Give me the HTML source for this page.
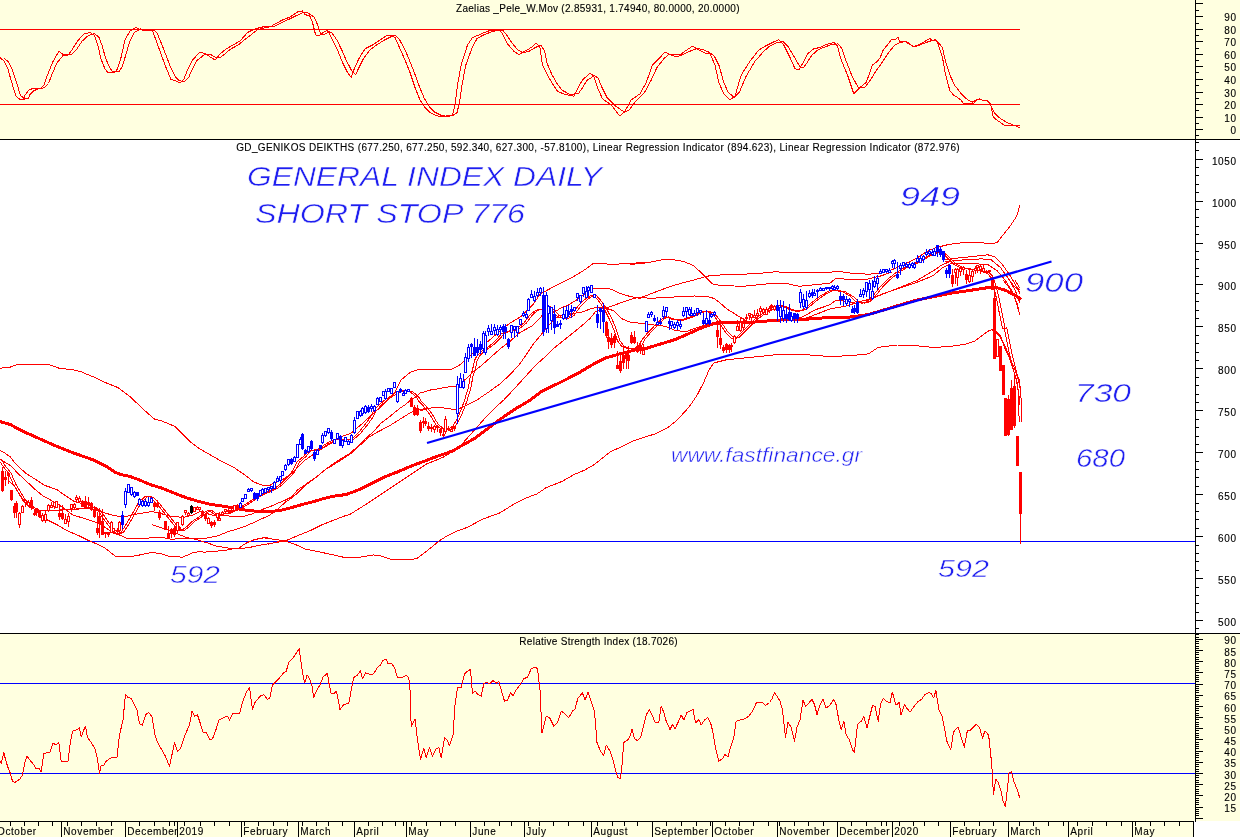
<!DOCTYPE html>
<html><head><meta charset="utf-8"><style>
html,body{margin:0;padding:0;background:#fff;overflow:hidden}
svg{display:block}
</style></head><body>
<svg width="1240" height="837" viewBox="0 0 1240 837">
<rect x="0" y="0" width="1240" height="139" fill="#FFFFE0"/>
<rect x="0" y="140" width="1240" height="493" fill="#FFFFFF"/>
<rect x="0" y="634" width="1240" height="187" fill="#FFFFE0"/>
<rect x="0" y="822" width="1193" height="15" fill="#FFFFE0"/>
<rect x="1194" y="822" width="46" height="15" fill="#FFFFFF"/>
<g shape-rendering="crispEdges">
<line x1="0" y1="139.5" x2="1240" y2="139.5" stroke="#000" stroke-width="1"/>
<line x1="0" y1="633.5" x2="1240" y2="633.5" stroke="#000" stroke-width="1"/>
<line x1="0" y1="821.5" x2="1194" y2="821.5" stroke="#000" stroke-width="1"/>
<line x1="1195.5" y1="0" x2="1195.5" y2="822" stroke="#000" stroke-width="1"/>
<line x1="1193.5" y1="822" x2="1193.5" y2="837" stroke="#000" stroke-width="1"/>
<line x1="1196" y1="135.5" x2="1199" y2="135.5" stroke="#000" stroke-width="1"/>
<line x1="1196" y1="129.5" x2="1203" y2="129.5" stroke="#000" stroke-width="1"/>
<line x1="1196" y1="123.5" x2="1199" y2="123.5" stroke="#000" stroke-width="1"/>
<line x1="1196" y1="117.5" x2="1203" y2="117.5" stroke="#000" stroke-width="1"/>
<line x1="1196" y1="110.5" x2="1199" y2="110.5" stroke="#000" stroke-width="1"/>
<line x1="1196" y1="104.5" x2="1203" y2="104.5" stroke="#000" stroke-width="1"/>
<line x1="1196" y1="98.5" x2="1199" y2="98.5" stroke="#000" stroke-width="1"/>
<line x1="1196" y1="92.5" x2="1203" y2="92.5" stroke="#000" stroke-width="1"/>
<line x1="1196" y1="85.5" x2="1199" y2="85.5" stroke="#000" stroke-width="1"/>
<line x1="1196" y1="79.5" x2="1203" y2="79.5" stroke="#000" stroke-width="1"/>
<line x1="1196" y1="72.5" x2="1199" y2="72.5" stroke="#000" stroke-width="1"/>
<line x1="1196" y1="66.5" x2="1203" y2="66.5" stroke="#000" stroke-width="1"/>
<line x1="1196" y1="60.5" x2="1199" y2="60.5" stroke="#000" stroke-width="1"/>
<line x1="1196" y1="54.5" x2="1203" y2="54.5" stroke="#000" stroke-width="1"/>
<line x1="1196" y1="48.5" x2="1199" y2="48.5" stroke="#000" stroke-width="1"/>
<line x1="1196" y1="41.5" x2="1203" y2="41.5" stroke="#000" stroke-width="1"/>
<line x1="1196" y1="35.5" x2="1199" y2="35.5" stroke="#000" stroke-width="1"/>
<line x1="1196" y1="29.5" x2="1203" y2="29.5" stroke="#000" stroke-width="1"/>
<line x1="1196" y1="23.5" x2="1199" y2="23.5" stroke="#000" stroke-width="1"/>
<line x1="1196" y1="16.5" x2="1203" y2="16.5" stroke="#000" stroke-width="1"/>
<line x1="1196" y1="10.5" x2="1199" y2="10.5" stroke="#000" stroke-width="1"/>
<line x1="1196" y1="3.5" x2="1203" y2="3.5" stroke="#000" stroke-width="1"/>
<line x1="1196" y1="628.5" x2="1199" y2="628.5" stroke="#000" stroke-width="1"/>
<line x1="1196" y1="620.5" x2="1203" y2="620.5" stroke="#000" stroke-width="1"/>
<line x1="1196" y1="612.5" x2="1199" y2="612.5" stroke="#000" stroke-width="1"/>
<line x1="1196" y1="603.5" x2="1199" y2="603.5" stroke="#000" stroke-width="1"/>
<line x1="1196" y1="595.5" x2="1199" y2="595.5" stroke="#000" stroke-width="1"/>
<line x1="1196" y1="587.5" x2="1199" y2="587.5" stroke="#000" stroke-width="1"/>
<line x1="1196" y1="578.5" x2="1203" y2="578.5" stroke="#000" stroke-width="1"/>
<line x1="1196" y1="570.5" x2="1199" y2="570.5" stroke="#000" stroke-width="1"/>
<line x1="1196" y1="561.5" x2="1199" y2="561.5" stroke="#000" stroke-width="1"/>
<line x1="1196" y1="553.5" x2="1199" y2="553.5" stroke="#000" stroke-width="1"/>
<line x1="1196" y1="545.5" x2="1199" y2="545.5" stroke="#000" stroke-width="1"/>
<line x1="1196" y1="536.5" x2="1203" y2="536.5" stroke="#000" stroke-width="1"/>
<line x1="1196" y1="528.5" x2="1199" y2="528.5" stroke="#000" stroke-width="1"/>
<line x1="1196" y1="519.5" x2="1199" y2="519.5" stroke="#000" stroke-width="1"/>
<line x1="1196" y1="511.5" x2="1199" y2="511.5" stroke="#000" stroke-width="1"/>
<line x1="1196" y1="503.5" x2="1199" y2="503.5" stroke="#000" stroke-width="1"/>
<line x1="1196" y1="494.5" x2="1203" y2="494.5" stroke="#000" stroke-width="1"/>
<line x1="1196" y1="486.5" x2="1199" y2="486.5" stroke="#000" stroke-width="1"/>
<line x1="1196" y1="477.5" x2="1199" y2="477.5" stroke="#000" stroke-width="1"/>
<line x1="1196" y1="469.5" x2="1199" y2="469.5" stroke="#000" stroke-width="1"/>
<line x1="1196" y1="461.5" x2="1199" y2="461.5" stroke="#000" stroke-width="1"/>
<line x1="1196" y1="452.5" x2="1203" y2="452.5" stroke="#000" stroke-width="1"/>
<line x1="1196" y1="444.5" x2="1199" y2="444.5" stroke="#000" stroke-width="1"/>
<line x1="1196" y1="436.5" x2="1199" y2="436.5" stroke="#000" stroke-width="1"/>
<line x1="1196" y1="427.5" x2="1199" y2="427.5" stroke="#000" stroke-width="1"/>
<line x1="1196" y1="419.5" x2="1199" y2="419.5" stroke="#000" stroke-width="1"/>
<line x1="1196" y1="410.5" x2="1203" y2="410.5" stroke="#000" stroke-width="1"/>
<line x1="1196" y1="402.5" x2="1199" y2="402.5" stroke="#000" stroke-width="1"/>
<line x1="1196" y1="394.5" x2="1199" y2="394.5" stroke="#000" stroke-width="1"/>
<line x1="1196" y1="385.5" x2="1199" y2="385.5" stroke="#000" stroke-width="1"/>
<line x1="1196" y1="377.5" x2="1199" y2="377.5" stroke="#000" stroke-width="1"/>
<line x1="1196" y1="368.5" x2="1203" y2="368.5" stroke="#000" stroke-width="1"/>
<line x1="1196" y1="360.5" x2="1199" y2="360.5" stroke="#000" stroke-width="1"/>
<line x1="1196" y1="352.5" x2="1199" y2="352.5" stroke="#000" stroke-width="1"/>
<line x1="1196" y1="343.5" x2="1199" y2="343.5" stroke="#000" stroke-width="1"/>
<line x1="1196" y1="335.5" x2="1199" y2="335.5" stroke="#000" stroke-width="1"/>
<line x1="1196" y1="326.5" x2="1203" y2="326.5" stroke="#000" stroke-width="1"/>
<line x1="1196" y1="318.5" x2="1199" y2="318.5" stroke="#000" stroke-width="1"/>
<line x1="1196" y1="310.5" x2="1199" y2="310.5" stroke="#000" stroke-width="1"/>
<line x1="1196" y1="301.5" x2="1199" y2="301.5" stroke="#000" stroke-width="1"/>
<line x1="1196" y1="293.5" x2="1199" y2="293.5" stroke="#000" stroke-width="1"/>
<line x1="1196" y1="284.5" x2="1203" y2="284.5" stroke="#000" stroke-width="1"/>
<line x1="1196" y1="276.5" x2="1199" y2="276.5" stroke="#000" stroke-width="1"/>
<line x1="1196" y1="268.5" x2="1199" y2="268.5" stroke="#000" stroke-width="1"/>
<line x1="1196" y1="259.5" x2="1199" y2="259.5" stroke="#000" stroke-width="1"/>
<line x1="1196" y1="251.5" x2="1199" y2="251.5" stroke="#000" stroke-width="1"/>
<line x1="1196" y1="243.5" x2="1203" y2="243.5" stroke="#000" stroke-width="1"/>
<line x1="1196" y1="234.5" x2="1199" y2="234.5" stroke="#000" stroke-width="1"/>
<line x1="1196" y1="226.5" x2="1199" y2="226.5" stroke="#000" stroke-width="1"/>
<line x1="1196" y1="217.5" x2="1199" y2="217.5" stroke="#000" stroke-width="1"/>
<line x1="1196" y1="209.5" x2="1199" y2="209.5" stroke="#000" stroke-width="1"/>
<line x1="1196" y1="201.5" x2="1203" y2="201.5" stroke="#000" stroke-width="1"/>
<line x1="1196" y1="192.5" x2="1199" y2="192.5" stroke="#000" stroke-width="1"/>
<line x1="1196" y1="184.5" x2="1199" y2="184.5" stroke="#000" stroke-width="1"/>
<line x1="1196" y1="175.5" x2="1199" y2="175.5" stroke="#000" stroke-width="1"/>
<line x1="1196" y1="167.5" x2="1199" y2="167.5" stroke="#000" stroke-width="1"/>
<line x1="1196" y1="159.5" x2="1203" y2="159.5" stroke="#000" stroke-width="1"/>
<line x1="1196" y1="150.5" x2="1199" y2="150.5" stroke="#000" stroke-width="1"/>
<line x1="1196" y1="142.5" x2="1199" y2="142.5" stroke="#000" stroke-width="1"/>
<line x1="1196" y1="818.5" x2="1203" y2="818.5" stroke="#000" stroke-width="1"/>
<line x1="1196" y1="815.5" x2="1199" y2="815.5" stroke="#000" stroke-width="1"/>
<line x1="1196" y1="813.5" x2="1199" y2="813.5" stroke="#000" stroke-width="1"/>
<line x1="1196" y1="811.5" x2="1199" y2="811.5" stroke="#000" stroke-width="1"/>
<line x1="1196" y1="809.5" x2="1199" y2="809.5" stroke="#000" stroke-width="1"/>
<line x1="1196" y1="807.5" x2="1203" y2="807.5" stroke="#000" stroke-width="1"/>
<line x1="1196" y1="804.5" x2="1199" y2="804.5" stroke="#000" stroke-width="1"/>
<line x1="1196" y1="802.5" x2="1199" y2="802.5" stroke="#000" stroke-width="1"/>
<line x1="1196" y1="800.5" x2="1199" y2="800.5" stroke="#000" stroke-width="1"/>
<line x1="1196" y1="798.5" x2="1199" y2="798.5" stroke="#000" stroke-width="1"/>
<line x1="1196" y1="795.5" x2="1203" y2="795.5" stroke="#000" stroke-width="1"/>
<line x1="1196" y1="793.5" x2="1199" y2="793.5" stroke="#000" stroke-width="1"/>
<line x1="1196" y1="791.5" x2="1199" y2="791.5" stroke="#000" stroke-width="1"/>
<line x1="1196" y1="789.5" x2="1199" y2="789.5" stroke="#000" stroke-width="1"/>
<line x1="1196" y1="786.5" x2="1199" y2="786.5" stroke="#000" stroke-width="1"/>
<line x1="1196" y1="784.5" x2="1203" y2="784.5" stroke="#000" stroke-width="1"/>
<line x1="1196" y1="782.5" x2="1199" y2="782.5" stroke="#000" stroke-width="1"/>
<line x1="1196" y1="780.5" x2="1199" y2="780.5" stroke="#000" stroke-width="1"/>
<line x1="1196" y1="777.5" x2="1199" y2="777.5" stroke="#000" stroke-width="1"/>
<line x1="1196" y1="775.5" x2="1199" y2="775.5" stroke="#000" stroke-width="1"/>
<line x1="1196" y1="773.5" x2="1203" y2="773.5" stroke="#000" stroke-width="1"/>
<line x1="1196" y1="771.5" x2="1199" y2="771.5" stroke="#000" stroke-width="1"/>
<line x1="1196" y1="769.5" x2="1199" y2="769.5" stroke="#000" stroke-width="1"/>
<line x1="1196" y1="766.5" x2="1199" y2="766.5" stroke="#000" stroke-width="1"/>
<line x1="1196" y1="764.5" x2="1199" y2="764.5" stroke="#000" stroke-width="1"/>
<line x1="1196" y1="762.5" x2="1203" y2="762.5" stroke="#000" stroke-width="1"/>
<line x1="1196" y1="760.5" x2="1199" y2="760.5" stroke="#000" stroke-width="1"/>
<line x1="1196" y1="757.5" x2="1199" y2="757.5" stroke="#000" stroke-width="1"/>
<line x1="1196" y1="755.5" x2="1199" y2="755.5" stroke="#000" stroke-width="1"/>
<line x1="1196" y1="753.5" x2="1199" y2="753.5" stroke="#000" stroke-width="1"/>
<line x1="1196" y1="751.5" x2="1203" y2="751.5" stroke="#000" stroke-width="1"/>
<line x1="1196" y1="748.5" x2="1199" y2="748.5" stroke="#000" stroke-width="1"/>
<line x1="1196" y1="746.5" x2="1199" y2="746.5" stroke="#000" stroke-width="1"/>
<line x1="1196" y1="744.5" x2="1199" y2="744.5" stroke="#000" stroke-width="1"/>
<line x1="1196" y1="742.5" x2="1199" y2="742.5" stroke="#000" stroke-width="1"/>
<line x1="1196" y1="739.5" x2="1203" y2="739.5" stroke="#000" stroke-width="1"/>
<line x1="1196" y1="737.5" x2="1199" y2="737.5" stroke="#000" stroke-width="1"/>
<line x1="1196" y1="735.5" x2="1199" y2="735.5" stroke="#000" stroke-width="1"/>
<line x1="1196" y1="733.5" x2="1199" y2="733.5" stroke="#000" stroke-width="1"/>
<line x1="1196" y1="730.5" x2="1199" y2="730.5" stroke="#000" stroke-width="1"/>
<line x1="1196" y1="728.5" x2="1203" y2="728.5" stroke="#000" stroke-width="1"/>
<line x1="1196" y1="726.5" x2="1199" y2="726.5" stroke="#000" stroke-width="1"/>
<line x1="1196" y1="724.5" x2="1199" y2="724.5" stroke="#000" stroke-width="1"/>
<line x1="1196" y1="722.5" x2="1199" y2="722.5" stroke="#000" stroke-width="1"/>
<line x1="1196" y1="719.5" x2="1199" y2="719.5" stroke="#000" stroke-width="1"/>
<line x1="1196" y1="717.5" x2="1203" y2="717.5" stroke="#000" stroke-width="1"/>
<line x1="1196" y1="715.5" x2="1199" y2="715.5" stroke="#000" stroke-width="1"/>
<line x1="1196" y1="713.5" x2="1199" y2="713.5" stroke="#000" stroke-width="1"/>
<line x1="1196" y1="710.5" x2="1199" y2="710.5" stroke="#000" stroke-width="1"/>
<line x1="1196" y1="708.5" x2="1199" y2="708.5" stroke="#000" stroke-width="1"/>
<line x1="1196" y1="706.5" x2="1203" y2="706.5" stroke="#000" stroke-width="1"/>
<line x1="1196" y1="704.5" x2="1199" y2="704.5" stroke="#000" stroke-width="1"/>
<line x1="1196" y1="701.5" x2="1199" y2="701.5" stroke="#000" stroke-width="1"/>
<line x1="1196" y1="699.5" x2="1199" y2="699.5" stroke="#000" stroke-width="1"/>
<line x1="1196" y1="697.5" x2="1199" y2="697.5" stroke="#000" stroke-width="1"/>
<line x1="1196" y1="695.5" x2="1203" y2="695.5" stroke="#000" stroke-width="1"/>
<line x1="1196" y1="692.5" x2="1199" y2="692.5" stroke="#000" stroke-width="1"/>
<line x1="1196" y1="690.5" x2="1199" y2="690.5" stroke="#000" stroke-width="1"/>
<line x1="1196" y1="688.5" x2="1199" y2="688.5" stroke="#000" stroke-width="1"/>
<line x1="1196" y1="686.5" x2="1199" y2="686.5" stroke="#000" stroke-width="1"/>
<line x1="1196" y1="684.5" x2="1203" y2="684.5" stroke="#000" stroke-width="1"/>
<line x1="1196" y1="681.5" x2="1199" y2="681.5" stroke="#000" stroke-width="1"/>
<line x1="1196" y1="679.5" x2="1199" y2="679.5" stroke="#000" stroke-width="1"/>
<line x1="1196" y1="677.5" x2="1199" y2="677.5" stroke="#000" stroke-width="1"/>
<line x1="1196" y1="675.5" x2="1199" y2="675.5" stroke="#000" stroke-width="1"/>
<line x1="1196" y1="672.5" x2="1203" y2="672.5" stroke="#000" stroke-width="1"/>
<line x1="1196" y1="670.5" x2="1199" y2="670.5" stroke="#000" stroke-width="1"/>
<line x1="1196" y1="668.5" x2="1199" y2="668.5" stroke="#000" stroke-width="1"/>
<line x1="1196" y1="666.5" x2="1199" y2="666.5" stroke="#000" stroke-width="1"/>
<line x1="1196" y1="663.5" x2="1199" y2="663.5" stroke="#000" stroke-width="1"/>
<line x1="1196" y1="661.5" x2="1203" y2="661.5" stroke="#000" stroke-width="1"/>
<line x1="1196" y1="659.5" x2="1199" y2="659.5" stroke="#000" stroke-width="1"/>
<line x1="1196" y1="657.5" x2="1199" y2="657.5" stroke="#000" stroke-width="1"/>
<line x1="1196" y1="654.5" x2="1199" y2="654.5" stroke="#000" stroke-width="1"/>
<line x1="1196" y1="652.5" x2="1199" y2="652.5" stroke="#000" stroke-width="1"/>
<line x1="1196" y1="650.5" x2="1203" y2="650.5" stroke="#000" stroke-width="1"/>
<line x1="1196" y1="648.5" x2="1199" y2="648.5" stroke="#000" stroke-width="1"/>
<line x1="1196" y1="646.5" x2="1199" y2="646.5" stroke="#000" stroke-width="1"/>
<line x1="1196" y1="643.5" x2="1199" y2="643.5" stroke="#000" stroke-width="1"/>
<line x1="1196" y1="641.5" x2="1199" y2="641.5" stroke="#000" stroke-width="1"/>
<line x1="1196" y1="639.5" x2="1203" y2="639.5" stroke="#000" stroke-width="1"/>
<line x1="1196" y1="637.5" x2="1199" y2="637.5" stroke="#000" stroke-width="1"/>
<line x1="1196" y1="634.5" x2="1199" y2="634.5" stroke="#000" stroke-width="1"/>
<line x1="61.5" y1="822" x2="61.5" y2="837" stroke="#000" stroke-width="1"/>
<line x1="125.5" y1="822" x2="125.5" y2="837" stroke="#000" stroke-width="1"/>
<line x1="177.5" y1="822" x2="177.5" y2="837" stroke="#000" stroke-width="1"/>
<line x1="241.5" y1="822" x2="241.5" y2="837" stroke="#000" stroke-width="1"/>
<line x1="298.5" y1="822" x2="298.5" y2="837" stroke="#000" stroke-width="1"/>
<line x1="354.5" y1="822" x2="354.5" y2="837" stroke="#000" stroke-width="1"/>
<line x1="406.5" y1="822" x2="406.5" y2="837" stroke="#000" stroke-width="1"/>
<line x1="470.5" y1="822" x2="470.5" y2="837" stroke="#000" stroke-width="1"/>
<line x1="524.5" y1="822" x2="524.5" y2="837" stroke="#000" stroke-width="1"/>
<line x1="591.5" y1="822" x2="591.5" y2="837" stroke="#000" stroke-width="1"/>
<line x1="652.5" y1="822" x2="652.5" y2="837" stroke="#000" stroke-width="1"/>
<line x1="712.5" y1="822" x2="712.5" y2="837" stroke="#000" stroke-width="1"/>
<line x1="777.5" y1="822" x2="777.5" y2="837" stroke="#000" stroke-width="1"/>
<line x1="837.5" y1="822" x2="837.5" y2="837" stroke="#000" stroke-width="1"/>
<line x1="892.5" y1="822" x2="892.5" y2="837" stroke="#000" stroke-width="1"/>
<line x1="950.5" y1="822" x2="950.5" y2="837" stroke="#000" stroke-width="1"/>
<line x1="1008.5" y1="822" x2="1008.5" y2="837" stroke="#000" stroke-width="1"/>
<line x1="1068.5" y1="822" x2="1068.5" y2="837" stroke="#000" stroke-width="1"/>
<line x1="1132.5" y1="822" x2="1132.5" y2="837" stroke="#000" stroke-width="1"/>
<line x1="10.5" y1="822" x2="10.5" y2="826" stroke="#000" stroke-width="1"/>
<line x1="24.5" y1="822" x2="24.5" y2="826" stroke="#000" stroke-width="1"/>
<line x1="38.5" y1="822" x2="38.5" y2="826" stroke="#000" stroke-width="1"/>
<line x1="52.5" y1="822" x2="52.5" y2="826" stroke="#000" stroke-width="1"/>
<line x1="67.5" y1="822" x2="67.5" y2="826" stroke="#000" stroke-width="1"/>
<line x1="81.5" y1="822" x2="81.5" y2="826" stroke="#000" stroke-width="1"/>
<line x1="96.5" y1="822" x2="96.5" y2="826" stroke="#000" stroke-width="1"/>
<line x1="111.5" y1="822" x2="111.5" y2="826" stroke="#000" stroke-width="1"/>
<line x1="139.5" y1="822" x2="139.5" y2="826" stroke="#000" stroke-width="1"/>
<line x1="154.5" y1="822" x2="154.5" y2="826" stroke="#000" stroke-width="1"/>
<line x1="169.5" y1="822" x2="169.5" y2="826" stroke="#000" stroke-width="1"/>
<line x1="174.5" y1="822" x2="174.5" y2="826" stroke="#000" stroke-width="1"/>
<line x1="184.5" y1="822" x2="184.5" y2="826" stroke="#000" stroke-width="1"/>
<line x1="200.5" y1="822" x2="200.5" y2="826" stroke="#000" stroke-width="1"/>
<line x1="214.5" y1="822" x2="214.5" y2="826" stroke="#000" stroke-width="1"/>
<line x1="229.5" y1="822" x2="229.5" y2="826" stroke="#000" stroke-width="1"/>
<line x1="244.5" y1="822" x2="244.5" y2="826" stroke="#000" stroke-width="1"/>
<line x1="258.5" y1="822" x2="258.5" y2="826" stroke="#000" stroke-width="1"/>
<line x1="273.5" y1="822" x2="273.5" y2="826" stroke="#000" stroke-width="1"/>
<line x1="287.5" y1="822" x2="287.5" y2="826" stroke="#000" stroke-width="1"/>
<line x1="302.5" y1="822" x2="302.5" y2="826" stroke="#000" stroke-width="1"/>
<line x1="316.5" y1="822" x2="316.5" y2="826" stroke="#000" stroke-width="1"/>
<line x1="328.5" y1="822" x2="328.5" y2="826" stroke="#000" stroke-width="1"/>
<line x1="342.5" y1="822" x2="342.5" y2="826" stroke="#000" stroke-width="1"/>
<line x1="368.5" y1="822" x2="368.5" y2="826" stroke="#000" stroke-width="1"/>
<line x1="382.5" y1="822" x2="382.5" y2="826" stroke="#000" stroke-width="1"/>
<line x1="395.5" y1="822" x2="395.5" y2="826" stroke="#000" stroke-width="1"/>
<line x1="403.5" y1="822" x2="403.5" y2="826" stroke="#000" stroke-width="1"/>
<line x1="411.5" y1="822" x2="411.5" y2="826" stroke="#000" stroke-width="1"/>
<line x1="426.5" y1="822" x2="426.5" y2="826" stroke="#000" stroke-width="1"/>
<line x1="440.5" y1="822" x2="440.5" y2="826" stroke="#000" stroke-width="1"/>
<line x1="455.5" y1="822" x2="455.5" y2="826" stroke="#000" stroke-width="1"/>
<line x1="484.5" y1="822" x2="484.5" y2="826" stroke="#000" stroke-width="1"/>
<line x1="499.5" y1="822" x2="499.5" y2="826" stroke="#000" stroke-width="1"/>
<line x1="511.5" y1="822" x2="511.5" y2="826" stroke="#000" stroke-width="1"/>
<line x1="528.5" y1="822" x2="528.5" y2="826" stroke="#000" stroke-width="1"/>
<line x1="539.5" y1="822" x2="539.5" y2="826" stroke="#000" stroke-width="1"/>
<line x1="553.5" y1="822" x2="553.5" y2="826" stroke="#000" stroke-width="1"/>
<line x1="568.5" y1="822" x2="568.5" y2="826" stroke="#000" stroke-width="1"/>
<line x1="583.5" y1="822" x2="583.5" y2="826" stroke="#000" stroke-width="1"/>
<line x1="597.5" y1="822" x2="597.5" y2="826" stroke="#000" stroke-width="1"/>
<line x1="612.5" y1="822" x2="612.5" y2="826" stroke="#000" stroke-width="1"/>
<line x1="624.5" y1="822" x2="624.5" y2="826" stroke="#000" stroke-width="1"/>
<line x1="637.5" y1="822" x2="637.5" y2="826" stroke="#000" stroke-width="1"/>
<line x1="666.5" y1="822" x2="666.5" y2="826" stroke="#000" stroke-width="1"/>
<line x1="681.5" y1="822" x2="681.5" y2="826" stroke="#000" stroke-width="1"/>
<line x1="696.5" y1="822" x2="696.5" y2="826" stroke="#000" stroke-width="1"/>
<line x1="710.5" y1="822" x2="710.5" y2="826" stroke="#000" stroke-width="1"/>
<line x1="725.5" y1="822" x2="725.5" y2="826" stroke="#000" stroke-width="1"/>
<line x1="739.5" y1="822" x2="739.5" y2="826" stroke="#000" stroke-width="1"/>
<line x1="753.5" y1="822" x2="753.5" y2="826" stroke="#000" stroke-width="1"/>
<line x1="768.5" y1="822" x2="768.5" y2="826" stroke="#000" stroke-width="1"/>
<line x1="779.5" y1="822" x2="779.5" y2="826" stroke="#000" stroke-width="1"/>
<line x1="794.5" y1="822" x2="794.5" y2="826" stroke="#000" stroke-width="1"/>
<line x1="808.5" y1="822" x2="808.5" y2="826" stroke="#000" stroke-width="1"/>
<line x1="823.5" y1="822" x2="823.5" y2="826" stroke="#000" stroke-width="1"/>
<line x1="851.5" y1="822" x2="851.5" y2="826" stroke="#000" stroke-width="1"/>
<line x1="866.5" y1="822" x2="866.5" y2="826" stroke="#000" stroke-width="1"/>
<line x1="881.5" y1="822" x2="881.5" y2="826" stroke="#000" stroke-width="1"/>
<line x1="886.5" y1="822" x2="886.5" y2="826" stroke="#000" stroke-width="1"/>
<line x1="899.5" y1="822" x2="899.5" y2="826" stroke="#000" stroke-width="1"/>
<line x1="913.5" y1="822" x2="913.5" y2="826" stroke="#000" stroke-width="1"/>
<line x1="924.5" y1="822" x2="924.5" y2="826" stroke="#000" stroke-width="1"/>
<line x1="938.5" y1="822" x2="938.5" y2="826" stroke="#000" stroke-width="1"/>
<line x1="964.5" y1="822" x2="964.5" y2="826" stroke="#000" stroke-width="1"/>
<line x1="979.5" y1="822" x2="979.5" y2="826" stroke="#000" stroke-width="1"/>
<line x1="993.5" y1="822" x2="993.5" y2="826" stroke="#000" stroke-width="1"/>
<line x1="1019.5" y1="822" x2="1019.5" y2="826" stroke="#000" stroke-width="1"/>
<line x1="1033.5" y1="822" x2="1033.5" y2="826" stroke="#000" stroke-width="1"/>
<line x1="1048.5" y1="822" x2="1048.5" y2="826" stroke="#000" stroke-width="1"/>
<line x1="1063.5" y1="822" x2="1063.5" y2="826" stroke="#000" stroke-width="1"/>
<line x1="1077.5" y1="822" x2="1077.5" y2="826" stroke="#000" stroke-width="1"/>
<line x1="1092.5" y1="822" x2="1092.5" y2="826" stroke="#000" stroke-width="1"/>
<line x1="1106.5" y1="822" x2="1106.5" y2="826" stroke="#000" stroke-width="1"/>
<line x1="1121.5" y1="822" x2="1121.5" y2="826" stroke="#000" stroke-width="1"/>
<line x1="1135.5" y1="822" x2="1135.5" y2="826" stroke="#000" stroke-width="1"/>
<line x1="1150.5" y1="822" x2="1150.5" y2="826" stroke="#000" stroke-width="1"/>
<line x1="1164.5" y1="822" x2="1164.5" y2="826" stroke="#000" stroke-width="1"/>
<line x1="1179.5" y1="822" x2="1179.5" y2="826" stroke="#000" stroke-width="1"/>
</g>
<g font-family="Liberation Sans, Arial, sans-serif" fill="#000" stroke="#000" stroke-width="0.12">
<text x="-3" y="835" font-size="10" text-anchor="start" fill="#000" letter-spacing="0.6">October</text>
<text x="63.3" y="835" font-size="10" text-anchor="start" fill="#000" letter-spacing="0.6">November</text>
<text x="127.3" y="835" font-size="10" text-anchor="start" fill="#000" letter-spacing="0.6">December</text>
<text x="179.3" y="835" font-size="10" text-anchor="start" fill="#000" letter-spacing="0.6">2019</text>
<text x="243.3" y="835" font-size="10" text-anchor="start" fill="#000" letter-spacing="0.6">February</text>
<text x="300.3" y="835" font-size="10" text-anchor="start" fill="#000" letter-spacing="0.6">March</text>
<text x="356.3" y="835" font-size="10" text-anchor="start" fill="#000" letter-spacing="0.6">April</text>
<text x="408.3" y="835" font-size="10" text-anchor="start" fill="#000" letter-spacing="0.6">May</text>
<text x="472.3" y="835" font-size="10" text-anchor="start" fill="#000" letter-spacing="0.6">June</text>
<text x="526.3" y="835" font-size="10" text-anchor="start" fill="#000" letter-spacing="0.6">July</text>
<text x="593.3" y="835" font-size="10" text-anchor="start" fill="#000" letter-spacing="0.6">August</text>
<text x="654.3" y="835" font-size="10" text-anchor="start" fill="#000" letter-spacing="0.6">September</text>
<text x="714.3" y="835" font-size="10" text-anchor="start" fill="#000" letter-spacing="0.6">October</text>
<text x="779.3" y="835" font-size="10" text-anchor="start" fill="#000" letter-spacing="0.6">November</text>
<text x="839.3" y="835" font-size="10" text-anchor="start" fill="#000" letter-spacing="0.6">December</text>
<text x="894.3" y="835" font-size="10" text-anchor="start" fill="#000" letter-spacing="0.6">2020</text>
<text x="952.3" y="835" font-size="10" text-anchor="start" fill="#000" letter-spacing="0.6">February</text>
<text x="1010.3" y="835" font-size="10" text-anchor="start" fill="#000" letter-spacing="0.6">March</text>
<text x="1070.3" y="835" font-size="10" text-anchor="start" fill="#000" letter-spacing="0.6">April</text>
<text x="1134.3" y="835" font-size="10" text-anchor="start" fill="#000" letter-spacing="0.6">May</text>
<text x="1236.6" y="134.3" font-size="10" text-anchor="end" fill="#000" letter-spacing="0.6">0</text>
<text x="1236.6" y="122.3" font-size="10" text-anchor="end" fill="#000" letter-spacing="0.6">10</text>
<text x="1236.6" y="109.3" font-size="10" text-anchor="end" fill="#000" letter-spacing="0.6">20</text>
<text x="1236.6" y="97.3" font-size="10" text-anchor="end" fill="#000" letter-spacing="0.6">30</text>
<text x="1236.6" y="84.3" font-size="10" text-anchor="end" fill="#000" letter-spacing="0.6">40</text>
<text x="1236.6" y="71.3" font-size="10" text-anchor="end" fill="#000" letter-spacing="0.6">50</text>
<text x="1236.6" y="59.3" font-size="10" text-anchor="end" fill="#000" letter-spacing="0.6">60</text>
<text x="1236.6" y="46.3" font-size="10" text-anchor="end" fill="#000" letter-spacing="0.6">70</text>
<text x="1236.6" y="34.3" font-size="10" text-anchor="end" fill="#000" letter-spacing="0.6">80</text>
<text x="1236.6" y="21.3" font-size="10" text-anchor="end" fill="#000" letter-spacing="0.6">90</text>
<text x="1236.6" y="626.105" font-size="10" text-anchor="end" fill="#000" letter-spacing="0.6">500</text>
<text x="1236.6" y="584.15" font-size="10" text-anchor="end" fill="#000" letter-spacing="0.6">550</text>
<text x="1236.6" y="542.1949999999999" font-size="10" text-anchor="end" fill="#000" letter-spacing="0.6">600</text>
<text x="1236.6" y="500.24" font-size="10" text-anchor="end" fill="#000" letter-spacing="0.6">650</text>
<text x="1236.6" y="458.28499999999997" font-size="10" text-anchor="end" fill="#000" letter-spacing="0.6">700</text>
<text x="1236.6" y="416.33" font-size="10" text-anchor="end" fill="#000" letter-spacing="0.6">750</text>
<text x="1236.6" y="374.375" font-size="10" text-anchor="end" fill="#000" letter-spacing="0.6">800</text>
<text x="1236.6" y="332.41999999999996" font-size="10" text-anchor="end" fill="#000" letter-spacing="0.6">850</text>
<text x="1236.6" y="290.465" font-size="10" text-anchor="end" fill="#000" letter-spacing="0.6">900</text>
<text x="1236.6" y="248.51" font-size="10" text-anchor="end" fill="#000" letter-spacing="0.6">950</text>
<text x="1236.6" y="206.555" font-size="10" text-anchor="end" fill="#000" letter-spacing="0.6">1000</text>
<text x="1236.6" y="164.6" font-size="10" text-anchor="end" fill="#000" letter-spacing="0.6">1050</text>
<text x="1236.6" y="812.1200000000001" font-size="10" text-anchor="end" fill="#000" letter-spacing="0.6">15</text>
<text x="1236.6" y="800.94" font-size="10" text-anchor="end" fill="#000" letter-spacing="0.6">20</text>
<text x="1236.6" y="789.7600000000001" font-size="10" text-anchor="end" fill="#000" letter-spacing="0.6">25</text>
<text x="1236.6" y="778.58" font-size="10" text-anchor="end" fill="#000" letter-spacing="0.6">30</text>
<text x="1236.6" y="767.4000000000001" font-size="10" text-anchor="end" fill="#000" letter-spacing="0.6">35</text>
<text x="1236.6" y="756.22" font-size="10" text-anchor="end" fill="#000" letter-spacing="0.6">40</text>
<text x="1236.6" y="745.0400000000001" font-size="10" text-anchor="end" fill="#000" letter-spacing="0.6">45</text>
<text x="1236.6" y="733.86" font-size="10" text-anchor="end" fill="#000" letter-spacing="0.6">50</text>
<text x="1236.6" y="722.6800000000001" font-size="10" text-anchor="end" fill="#000" letter-spacing="0.6">55</text>
<text x="1236.6" y="711.5000000000001" font-size="10" text-anchor="end" fill="#000" letter-spacing="0.6">60</text>
<text x="1236.6" y="700.32" font-size="10" text-anchor="end" fill="#000" letter-spacing="0.6">65</text>
<text x="1236.6" y="689.14" font-size="10" text-anchor="end" fill="#000" letter-spacing="0.6">70</text>
<text x="1236.6" y="677.96" font-size="10" text-anchor="end" fill="#000" letter-spacing="0.6">75</text>
<text x="1236.6" y="666.7800000000001" font-size="10" text-anchor="end" fill="#000" letter-spacing="0.6">80</text>
<text x="1236.6" y="655.6" font-size="10" text-anchor="end" fill="#000" letter-spacing="0.6">85</text>
<text x="1236.6" y="644.4200000000001" font-size="10" text-anchor="end" fill="#000" letter-spacing="0.6">90</text>
<text x="456" y="12" font-size="10" text-anchor="start" fill="#000" textLength="283.5" lengthAdjust="spacing">Zaelias _Pele_W.Mov (2.85931, 1.74940, 80.0000, 20.0000)</text>
<text x="236.2" y="151" font-size="10" text-anchor="start" fill="#000" textLength="723.5" lengthAdjust="spacing">GD_GENIKOS DEIKTHS (677.250, 677.250, 592.340, 627.300, -57.8100), Linear Regression Indicator (894.623), Linear Regression Indicator (872.976)</text>
<text x="519.3" y="645" font-size="10" text-anchor="start" fill="#000" textLength="158.3" lengthAdjust="spacing">Relative Strength Index (18.7026)</text>
</g>
<g shape-rendering="crispEdges">
<line x1="0" y1="29.5" x2="1020" y2="29.5" stroke="#FF0000" stroke-width="1"/>
<line x1="0" y1="104.5" x2="1020" y2="104.5" stroke="#FF0000" stroke-width="1"/>
<line x1="0" y1="541.5" x2="1195" y2="541.5" stroke="#0000FF" stroke-width="1"/>
<line x1="0" y1="683.5" x2="1195" y2="683.5" stroke="#0000FF" stroke-width="1"/>
<line x1="0" y1="773.5" x2="1195" y2="773.5" stroke="#0000FF" stroke-width="1"/>
</g>
<polyline points="0.0,57.5 3.8,61.0 7.5,67.5 11.0,80.0 14.0,90.0 16.0,96.0 20.0,99.5 24.0,100.0 25.0,95.0 29.0,90.0 34.0,88.0 40.0,89.0 44.0,85.0 47.5,75.0 52.5,62.5 59.0,51.0 64.0,55.5 67.5,56.0 72.5,49.0 77.5,41.0 84.0,34.0 90.0,32.5 94.5,35.5 98.0,46.0 101.0,59.0 105.0,69.0 107.5,72.0 115.0,72.0 117.5,69.0 121.0,57.5 125.0,40.0 130.0,31.0 136.0,27.5 140.0,29.5 145.0,31.0 150.0,30.0 152.5,31.0 156.0,40.0 161.0,54.0 166.0,67.5 171.0,79.5 175.0,80.5 180.0,83.0 184.0,79.0 187.5,70.0 192.5,60.0 200.0,52.0 206.0,54.0 211.0,57.5 215.0,60.0 220.0,54.0 226.0,49.0 234.0,44.5 240.0,41.0 247.5,32.5 252.5,30.0 260.0,27.5 265.0,26.5 270.0,27.0 275.0,24.0 282.5,20.0 290.0,17.0 297.5,12.0 302.5,11.0 305.0,14.5 310.0,16.2 312.5,22.5 315.0,32.5 316.2,35.0 320.0,35.0 325.0,31.2 327.5,30.5 332.5,40.0 337.5,50.0 342.5,62.5 347.5,72.5 351.2,77.5 353.8,70.0 358.8,58.8 365.0,48.8 372.5,45.0 380.0,40.0 387.5,35.0 391.2,35.0 395.0,37.5 400.0,48.8 405.0,60.0 410.0,72.5 415.0,87.5 420.0,100.0 425.0,107.5 430.0,112.5 436.2,115.5 441.2,117.0 447.5,115.8 452.5,115.0 455.0,105.0 457.5,85.0 461.2,65.0 467.5,45.0 472.5,37.5 480.0,34.5 487.5,31.2 493.8,30.0 498.8,30.0 502.5,33.8 507.5,43.8 513.8,51.2 518.8,54.5 525.0,51.2 531.2,47.5 536.2,43.0 540.0,47.5 542.5,65.0 547.5,75.0 552.5,83.8 557.5,91.2 565.0,94.5 573.8,96.2 577.5,88.8 582.5,80.0 590.0,73.0 593.8,76.2 597.5,87.5 602.5,98.8 611.2,105.0 620.0,116.2 625.0,111.2 631.2,100.0 640.0,93.8 646.2,82.5 652.5,65.0 660.0,57.5 665.0,52.0 671.2,55.0 677.5,57.0 685.0,51.2 692.5,46.2 698.8,50.0 705.0,53.0 710.0,53.8 715.0,65.0 718.8,82.5 723.8,93.8 730.0,100.0 735.0,96.2 741.2,75.0 750.0,61.2 758.8,50.0 765.0,46.2 772.5,42.5 778.8,39.5 783.8,45.0 790.0,57.5 795.0,68.8 798.8,70.0 802.5,63.8 807.5,53.8 813.8,48.8 820.0,47.5 826.2,44.5 833.8,42.5 837.5,46.2 841.2,60.0 847.5,75.0 853.8,93.8 860.0,87.5 866.2,82.5 872.5,65.0 877.5,61.2 880.0,58.1 883.3,49.8 887.5,44.9 891.6,39.5 895.8,39.0 897.9,37.4 899.9,41.5 904.9,41.2 909.1,44.0 913.2,46.5 918.2,45.2 923.2,42.4 929.8,38.5 933.2,40.7 935.6,39.9 938.1,44.0 942.3,56.5 945.6,74.8 949.8,90.5 953.1,94.7 957.2,97.2 960.6,99.7 963.9,103.8 973.0,103.8 976.3,100.5 979.3,98.8 983.0,100.5 988.0,101.0 990.5,103.8 993.0,116.3 996.3,119.6 1004.6,125.4 1012.9,125.4 1019.5,125.4" fill="none" stroke="#FF0000" stroke-width="1" stroke-linejoin="round"  shape-rendering="crispEdges"/>
<polyline points="4.5,58.4 8.2,61.8 12.0,69.0 15.5,79.4 18.5,89.0 20.5,95.4 24.5,98.8 28.5,98.6 29.5,95.0 33.5,90.8 38.5,88.8 44.5,87.8 48.5,83.5 52.0,74.4 57.0,62.8 63.5,55.0 68.5,54.5 72.0,54.1 77.0,48.8 82.0,41.2 88.5,35.4 94.5,33.6 99.0,37.4 102.5,46.6 105.5,58.2 109.5,67.2 112.0,71.2 119.5,71.2 122.0,66.9 125.5,56.0 129.5,42.1 134.5,32.4 140.5,28.9 144.5,29.4 149.5,30.4 154.5,30.5 157.0,33.0 160.5,41.2 165.5,53.9 170.5,67.1 175.5,76.8 179.5,80.9 184.5,81.4 188.5,77.8 192.0,69.8 197.0,60.5 204.5,54.5 210.5,54.4 215.5,57.2 219.5,57.9 224.5,54.2 230.5,49.1 238.5,44.8 244.5,39.8 252.0,34.0 257.0,30.0 264.5,27.9 269.5,26.9 274.5,26.1 279.5,23.8 287.0,20.2 294.5,16.5 302.0,13.0 307.0,12.1 309.5,14.1 314.5,17.4 317.0,23.4 319.5,30.6 320.8,34.4 324.5,34.1 329.5,32.0 332.0,33.1 337.0,40.1 342.0,50.6 347.0,61.9 352.0,71.2 355.8,74.4 358.2,69.1 363.2,59.1 369.5,50.3 377.0,44.7 384.5,40.0 392.0,36.2 395.8,35.6 399.5,39.7 404.5,48.8 409.5,60.3 414.5,73.1 419.5,86.9 424.5,98.8 429.5,106.9 434.5,112.0 440.8,115.1 445.8,116.3 452.0,115.9 457.0,112.7 459.5,102.5 462.0,85.0 465.8,65.0 472.0,48.1 477.0,38.6 484.5,34.4 492.0,31.8 498.2,30.3 503.2,30.9 507.0,35.3 512.0,43.1 518.2,50.2 523.2,52.9 529.5,51.1 535.8,47.3 540.8,45.2 544.5,50.8 547.0,63.1 552.0,74.7 557.0,83.4 562.0,90.2 569.5,94.1 578.2,93.9 582.0,88.4 587.0,80.4 594.5,75.6 598.2,78.2 602.0,87.5 607.0,97.5 615.8,106.2 624.5,112.2 629.5,109.7 635.8,101.2 644.5,92.5 650.8,80.9 657.0,67.5 664.5,58.0 669.5,54.1 675.8,54.8 682.0,55.1 689.5,51.4 697.0,48.4 703.2,49.8 709.5,52.4 714.5,56.4 719.5,66.6 723.2,80.9 728.2,92.5 734.5,97.5 739.5,91.9 745.8,76.9 754.5,61.9 763.2,51.9 769.5,46.2 777.0,42.7 783.2,41.6 788.2,46.8 794.5,57.2 799.5,66.2 803.2,68.1 807.0,62.8 812.0,55.0 818.2,49.7 824.5,47.1 830.8,44.8 838.2,43.9 842.0,48.8 845.8,60.3 852.0,75.9 858.2,87.5 864.5,87.8 870.8,79.4 877.0,69.4 880.0,65.6 885.0,58.1 890.0,50.7 895.0,44.9 899.9,42.4 906.6,41.5 911.6,45.7 914.9,46.5 919.9,44.9 924.9,42.9 929.8,41.2 934.8,39.9 937.3,41.5 942.3,47.3 945.6,61.5 949.8,74.8 954.8,85.5 961.4,93.9 965.5,98.0 969.7,101.0 973.0,102.2 976.3,99.7 979.7,99.7 986.3,100.5 989.6,103.0 994.6,113.0 999.6,117.9 1006.2,122.1 1012.9,124.9 1019.5,127.6" fill="none" stroke="#FF0000" stroke-width="1" stroke-linejoin="round"  shape-rendering="crispEdges"/>
<polyline points="0.0,761.2 1.2,763.8 3.8,752.5 5.0,757.5 7.5,766.2 10.0,772.5 12.5,781.2 15.0,782.5 20.0,778.8 22.5,775.0 25.0,762.5 26.8,756.2 30.0,760.0 33.8,765.0 36.2,768.8 38.8,768.0 41.2,772.0 43.8,753.8 47.5,752.5 50.0,752.0 53.0,743.0 56.2,745.0 58.8,742.0 61.2,761.2 65.0,761.2 68.0,761.2 70.0,745.0 72.5,731.2 76.2,730.0 79.5,728.0 81.2,737.0 83.8,730.0 85.5,726.2 87.5,737.5 91.2,742.5 95.0,748.8 97.5,758.8 99.5,773.8 101.2,765.0 103.8,765.0 106.2,761.2 110.0,758.2 113.8,757.5 117.0,757.5 119.5,735.0 123.0,720.0 125.5,694.2 128.0,697.5 131.2,698.5 133.8,703.8 137.0,710.0 139.5,723.8 142.5,725.0 145.8,714.5 148.8,712.5 152.0,717.0 155.0,735.0 157.5,742.5 161.2,748.8 165.0,755.5 169.5,766.2 174.5,743.0 177.5,751.2 180.5,748.8 185.0,735.0 189.5,725.0 192.0,711.2 194.5,716.2 197.5,715.0 200.0,722.5 203.0,732.0 206.2,732.5 210.0,739.5 212.5,738.8 215.5,731.2 218.8,720.0 223.8,717.5 227.5,716.2 229.5,720.0 232.5,713.8 237.0,713.8 239.5,713.8 242.0,703.8 246.2,692.5 249.5,687.5 252.5,709.5 255.0,702.5 260.0,696.2 263.8,694.5 267.5,699.5 270.0,697.5 272.5,685.0 275.0,682.5 278.8,678.8 283.8,672.5 286.2,671.2 288.8,662.5 292.5,658.8 297.5,651.2 299.2,648.8 300.0,655.0 302.5,672.5 304.5,682.5 305.0,682.5 307.0,675.0 307.5,675.0 310.0,680.0 312.0,686.2 313.8,697.5 316.2,691.2 320.0,685.0 323.0,677.0 327.5,673.2 328.8,682.5 331.2,693.8 333.8,693.8 336.2,691.2 337.5,696.2 340.0,709.5 343.8,704.5 348.8,703.2 351.2,690.0 353.8,677.5 357.5,675.0 360.5,670.5 362.5,678.8 365.5,673.0 368.8,673.8 372.0,675.0 374.5,672.5 377.5,667.5 380.5,665.0 382.5,660.8 386.2,659.2 388.0,663.8 391.2,663.0 394.5,667.5 397.5,677.5 402.5,677.5 406.2,675.0 408.8,677.5 410.0,690.0 411.2,726.2 415.0,718.8 417.5,740.0 420.5,759.5 423.8,748.0 426.2,758.0 429.5,747.5 432.5,756.2 436.2,748.8 438.8,747.5 441.2,758.0 444.5,737.5 447.0,740.0 449.5,745.5 453.0,735.0 455.0,705.0 457.5,687.5 461.2,687.5 464.5,673.8 467.5,671.2 470.5,669.5 472.5,693.8 475.0,691.2 478.0,694.5 481.2,696.2 483.8,683.8 486.2,682.0 490.0,683.8 493.0,680.5 496.2,683.2 498.8,681.2 501.2,690.0 504.5,701.2 507.5,700.0 510.5,693.0 513.0,695.5 516.2,690.0 520.0,685.0 523.8,678.8 527.5,677.0 531.2,668.8 535.0,667.0 537.5,668.8 540.0,690.0 542.0,733.0 546.2,716.2 549.5,717.5 553.8,726.2 557.5,722.5 561.2,711.2 565.0,713.8 568.8,717.5 572.5,711.2 575.0,708.8 578.0,698.0 582.5,693.0 585.0,700.0 588.0,692.5 591.2,701.2 594.5,711.2 597.0,742.5 600.0,750.0 600.0,750.0 603.0,755.0 603.8,755.0 606.2,745.0 606.2,745.0 610.0,751.2 613.0,760.0 615.5,770.0 617.5,777.0 620.5,778.8 622.0,765.0 623.8,742.5 627.5,740.0 629.5,737.5 632.0,729.5 634.5,738.8 637.5,740.5 640.5,737.5 643.8,725.0 646.2,715.0 649.5,709.5 652.5,716.2 655.0,722.0 658.8,722.0 661.2,706.2 663.8,712.5 666.2,721.2 670.0,729.5 672.5,724.5 675.0,728.8 678.0,722.5 681.2,715.0 683.8,720.0 687.0,712.5 690.0,711.2 693.0,709.5 695.5,723.0 698.8,719.5 701.2,725.0 704.5,720.0 707.5,717.5 710.5,722.5 713.0,732.5 715.5,747.5 718.8,761.2 722.5,758.8 725.0,754.5 728.0,757.0 730.5,747.5 733.8,737.5 736.2,721.2 740.0,720.0 745.0,718.8 748.8,716.2 752.5,711.2 756.2,703.0 760.0,702.5 762.5,702.5 765.5,705.5 769.5,702.5 772.0,698.8 774.5,692.5 777.5,697.0 780.0,701.2 782.5,710.0 785.5,737.5 788.0,722.5 791.2,727.5 794.5,741.2 797.0,727.0 800.0,720.0 803.0,700.0 805.5,706.2 808.8,703.0 812.0,699.5 814.5,704.5 817.0,714.5 820.0,705.0 823.0,699.2 826.2,708.0 829.5,705.5 833.8,699.5 836.2,705.0 838.8,720.0 841.2,730.0 843.8,721.2 846.2,735.0 849.5,740.0 852.5,750.0 854.5,752.0 857.5,724.5 861.2,721.2 863.8,716.2 867.0,728.0 869.5,717.5 872.5,705.5 875.0,706.2 878.2,721.2 880.5,704.5 883.0,698.9 883.8,698.8 886.1,700.9 887.0,701.2 889.1,703.0 890.0,702.5 892.2,692.4 892.5,692.5 895.0,702.0 895.2,705.0 897.5,704.5 898.3,703.0 899.5,702.5 900.7,714.8 901.2,714.5 904.4,704.6 904.5,704.5 907.4,709.1 907.5,708.8 910.1,712.1 913.5,707.0 917.6,702.0 921.6,699.3 924.7,694.8 928.8,692.4 931.2,693.8 933.8,697.9 935.9,690.4 938.9,710.1 942.0,716.2 944.6,729.4 947.0,741.6 950.7,749.7 953.5,732.4 956.2,728.4 958.2,727.4 961.3,737.5 964.3,747.3 967.4,730.4 970.4,730.4 973.4,726.9 976.5,724.3 979.5,727.4 982.6,738.5 984.6,731.4 986.7,732.4 988.7,735.5 990.7,753.8 992.1,770.0 993.4,794.4 995.8,779.2 998.2,782.2 1000.9,790.3 1002.9,800.5 1005.3,806.6 1007.0,792.4 1009.0,773.1 1011.6,772.0 1014.1,782.2 1016.7,788.3 1019.8,798.0" fill="none" stroke="#FF0000" stroke-width="1" stroke-linejoin="round"  shape-rendering="crispEdges"/>
<g>
<polyline points="0.0,368.2 10.0,367.2 18.2,364.0 47.7,364.0 59.0,368.2 72.8,369.8 81.6,372.0 97.9,378.8 104.1,382.0 118.0,387.6 130.5,397.0 143.0,409.0 155.0,419.6 160.0,420.2 175.0,426.5 190.0,441.5 200.0,449.0 219.3,460.0 233.6,467.2 245.6,475.5 253.9,482.1 262.3,485.1 270.0,485.3" fill="none" stroke="#FF0000" stroke-width="1" stroke-linejoin="round"  shape-rendering="crispEdges"/>
<polyline points="0.0,450.2 4.8,453.1 10.5,457.1 16.1,464.4 25.8,473.2 34.7,478.9 44.4,485.3 56.5,489.4 64.5,495.0 74.2,501.5 82.0,503.5 90.3,505.2 100.0,511.6 111.3,514.8 122.6,517.3 132.3,514.8 141.9,513.2 151.6,511.6 159.7,513.2 171.0,516.5 183.9,517.3 193.5,514.8 200.0,511.6" fill="none" stroke="#FF0000" stroke-width="1" stroke-linejoin="round"  shape-rendering="crispEdges"/>
<polyline points="0.0,459.5 6.5,463.1 11.3,466.0 17.7,473.2 28.2,482.9 33.9,488.5 42.7,495.8 51.6,500.6 62.0,507.0 72.6,514.8 85.5,518.9 95.2,522.1 103.2,526.1 112.9,532.6 119.4,535.0 125.0,537.5 129.0,539.0 145.2,538.2 161.3,537.4 171.3,539.2 188.7,538.2 206.1,538.2 217.8,535.8 227.4,531.9 237.1,529.0 246.8,525.6 256.5,521.3 270.0,515.0" fill="none" stroke="#FF0000" stroke-width="1" stroke-linejoin="round"  shape-rendering="crispEdges"/>
<polyline points="40.0,517.3 45.2,518.9 56.5,524.5 67.7,531.0 77.4,535.0 88.7,540.6 96.8,543.9 104.8,547.9 116.1,556.8 129.0,556.8 138.7,555.2 150.0,552.7 159.7,553.2 169.4,556.6 182.9,557.1 192.6,552.8 200.3,551.3 204.2,552.3 212.0,551.3 222.6,550.8 232.3,548.9 242.0,548.4 251.6,547.0 261.3,545.0 270.0,543.6" fill="none" stroke="#FF0000" stroke-width="1" stroke-linejoin="round"  shape-rendering="crispEdges"/>
<polyline points="8.1,480.5 14.5,486.1 24.2,501.5 30.0,508.0" fill="none" stroke="#FF0000" stroke-width="1" stroke-linejoin="round"  shape-rendering="crispEdges"/>
<polyline points="151.6,524.5 161.3,527.7 171.0,531.0 181.0,535.3 186.8,537.7 193.6,538.7 201.3,541.1 208.1,543.1 215.8,546.0 227.4,547.9 234.2,548.9 239.1,547.9 246.8,542.6 251.6,540.7 258.4,538.7 264.2,537.7 270.0,538.2" fill="none" stroke="#FF0000" stroke-width="1" stroke-linejoin="round"  shape-rendering="crispEdges"/>
<polyline points="270.0,485.3 272.3,484.0 278.8,481.3 285.2,478.1 291.7,473.3 298.1,466.8 304.6,460.4 311.0,456.1 320.0,450.0 330.0,444.0 340.0,437.0 351.0,433.2 362.3,423.5 378.4,409.0 394.5,392.9 401.0,380.0" fill="none" stroke="#FF0000" stroke-width="1" stroke-linejoin="round"  shape-rendering="crispEdges"/>
<polyline points="200.0,511.6 212.0,515.0 225.0,515.8 235.8,516.3 242.2,516.8 253.0,513.6 262.6,509.3 270.2,506.6 278.8,502.8 285.2,500.2 291.7,496.9 298.1,489.4 304.6,485.1 313.2,479.2 319.6,474.4 326.1,469.0 330.0,467.1 341.0,460.0 349.6,454.6 368.7,437.4 378.2,431.6 387.8,426.8 395.4,422.1 403.1,417.3 410.7,412.5 416.5,410.6 425.0,408.4" fill="none" stroke="#FF0000" stroke-width="1" stroke-linejoin="round"  shape-rendering="crispEdges"/>
<polyline points="270.0,515.0 278.8,508.2 285.2,502.3 291.7,498.0 298.1,492.6 305.6,485.1 313.2,479.7 320.0,474.0 330.0,466.0 340.0,459.3 349.6,453.6 357.2,446.9 364.9,439.3 373.5,431.6 381.1,423.0 387.8,418.2 393.5,413.5 399.3,408.7 405.0,404.9 410.7,400.1 415.5,397.2 420.0,393.1 430.8,389.9 440.0,388.5" fill="none" stroke="#FF0000" stroke-width="1" stroke-linejoin="round"  shape-rendering="crispEdges"/>
<polyline points="270.0,543.6 285.2,541.0 300.3,534.6 311.0,530.3 321.8,524.9 332.5,520.6 345.0,515.8 349.4,514.7 368.7,502.6 388.1,489.7 407.4,476.8 426.8,463.9 442.9,457.4 455.8,449.4 461.9,444.2 469.5,435.6 478.1,425.9 486.7,416.2 495.3,407.6 503.8,400.0" fill="none" stroke="#FF0000" stroke-width="1" stroke-linejoin="round"  shape-rendering="crispEdges"/>
<polyline points="244.4,544.2 253.0,540.0 263.7,537.8 274.5,539.4 285.2,541.0 294.9,544.2 305.0,549.0 320.0,552.0 330.0,554.2" fill="none" stroke="#FF0000" stroke-width="1" stroke-linejoin="round"  shape-rendering="crispEdges"/>
<polyline points="268.0,544.2 278.8,541.6 285.2,541.0" fill="none" stroke="#FF0000" stroke-width="1" stroke-linejoin="round"  shape-rendering="crispEdges"/>
<polyline points="420.0,410.9 426.5,408.7 436.1,407.1 445.8,408.2 455.5,409.8 463.0,407.1 470.5,403.3 476.9,400.0" fill="none" stroke="#FF0000" stroke-width="1" stroke-linejoin="round"  shape-rendering="crispEdges"/>
<polyline points="330.0,554.2 342.9,557.1 360.6,557.1 373.5,555.0 380.0,555.8 392.9,559.8 410.6,559.8 417.1,558.2 426.8,551.0 439.7,540.5 446.1,536.5 455.8,531.6 468.7,526.8 481.6,519.5 499.4,513.1 513.9,504.2 526.8,497.4 530.0,496.9" fill="none" stroke="#FF0000" stroke-width="1" stroke-linejoin="round"  shape-rendering="crispEdges"/>
<polyline points="401.0,380.0 410.0,372.5 420.0,369.0 452.0,369.1 460.8,364.3 469.4,356.2 480.1,347.6 490.9,339.0 500.5,330.4 510.2,322.9 521.0,316.5 533.9,303.5 540.0,294.3 550.5,288.4 561.0,283.1 571.5,277.9 583.4,270.7 593.5,263.2 606.5,264.0 619.4,264.0 632.3,263.2 650.0,262.4" fill="none" stroke="#FF0000" stroke-width="1" stroke-linejoin="round"  shape-rendering="crispEdges"/>
<polyline points="440.0,388.5 445.8,387.2 455.5,386.1 460.9,383.4 466.2,378.6 471.5,373.4 482.3,364.8 493.0,355.2 501.6,347.6 510.2,341.2 519.9,332.6 531.7,326.1 541.4,316.5 547.9,304.8 553.1,309.4 556.0,311.0 561.0,308.0 568.0,305.0 575.0,301.0 582.0,296.0 588.0,291.0 593.9,288.4 603.1,288.4 611.0,289.1 618.8,293.0 629.4,296.3 640.0,298.3" fill="none" stroke="#FF0000" stroke-width="1" stroke-linejoin="round"  shape-rendering="crispEdges"/>
<polyline points="476.9,400.0 487.6,392.8 499.5,384.2 510.2,374.5 519.9,363.8 527.4,353.0 533.9,343.3 540.0,336.0 547.9,326.0 558.4,316.0 574.2,313.4 582.0,312.0 592.6,308.1 599.1,307.5 605.7,308.1 613.6,310.7 621.5,318.6 629.4,321.9 640.0,323.2" fill="none" stroke="#FF0000" stroke-width="1" stroke-linejoin="round"  shape-rendering="crispEdges"/>
<polyline points="503.8,400.0 514.5,388.5 525.3,376.7 536.0,364.8 544.6,357.3 553.1,348.8 566.3,338.3 579.4,327.8 589.9,318.6 595.2,312.0 601.8,308.8 605.7,308.1 613.6,305.5 624.1,301.5 634.6,298.3 640.0,297.0" fill="none" stroke="#FF0000" stroke-width="1" stroke-linejoin="round"  shape-rendering="crispEdges"/>
<polyline points="630.0,264.5 646.1,262.9 662.3,259.7 675.2,260.0 683.2,261.3 692.9,265.3 699.4,271.0 705.8,277.4 712.3,283.9 720.3,285.5 742.9,286.3 759.0,284.7 775.2,283.1 788.1,283.9 799.4,286.3 815.5,284.7 830.0,283.1" fill="none" stroke="#FF0000" stroke-width="1" stroke-linejoin="round"  shape-rendering="crispEdges"/>
<polyline points="640.0,298.3 642.9,296.8 655.8,291.9 668.7,287.1 681.6,283.1 694.5,279.8 707.4,276.1 720.3,275.0 742.9,274.2 759.0,273.4 775.2,271.8 791.3,272.6 807.4,272.6 830.0,272.6" fill="none" stroke="#FF0000" stroke-width="1" stroke-linejoin="round"  shape-rendering="crispEdges"/>
<polyline points="640.0,297.0 649.4,298.4 662.3,297.6 678.4,296.8 694.5,296.0 707.4,296.5 713.9,298.4 720.3,303.2 726.8,308.9 733.2,312.9 739.7,316.9 746.1,321.0 752.0,323.0" fill="none" stroke="#FF0000" stroke-width="1" stroke-linejoin="round"  shape-rendering="crispEdges"/>
<polyline points="640.0,323.2 646.1,324.2 662.3,325.8 668.7,327.4 675.2,330.6 686.5,331.5 697.7,327.4 710.6,323.4 717.1,321.8 726.0,322.0" fill="none" stroke="#FF0000" stroke-width="1" stroke-linejoin="round"  shape-rendering="crispEdges"/>
<polyline points="790.0,320.0 801.0,317.7 815.5,309.7 830.0,304.8" fill="none" stroke="#FF0000" stroke-width="1" stroke-linejoin="round"  shape-rendering="crispEdges"/>
<polyline points="795.0,321.0 807.4,317.7 830.0,308.9" fill="none" stroke="#FF0000" stroke-width="1" stroke-linejoin="round"  shape-rendering="crispEdges"/>
<polyline points="713.9,362.9 726.8,359.7 742.9,358.1 759.0,356.5 775.2,354.8 791.3,354.5 807.4,354.8 830.0,356.5" fill="none" stroke="#FF0000" stroke-width="1" stroke-linejoin="round"  shape-rendering="crispEdges"/>
<polyline points="530.0,496.3 536.5,494.2 546.1,487.7 554.2,484.5 562.3,481.3 573.5,474.8 584.8,470.0 594.5,464.4 602.6,457.9 610.6,451.5 620.3,447.4 633.2,441.0 642.9,437.7 655.8,433.7 667.1,428.1 675.2,421.6 684.8,411.9 691.3,403.9 697.7,394.2 704.2,381.3 709.0,370.0 713.9,362.9" fill="none" stroke="#FF0000" stroke-width="1" stroke-linejoin="round"  shape-rendering="crispEdges"/>
<polyline points="830.0,272.6 836.1,271.0 852.3,273.4 868.4,274.2 881.3,273.4 892.6,269.4 903.9,264.5 916.8,258.1 926.5,251.6 936.1,247.6 949.0,244.4 965.2,242.3 981.3,242.7 991.0,243.9 997.4,242.3 1003.9,233.9 1010.3,225.8 1016.8,216.1 1020.0,204.8" fill="none" stroke="#FF0000" stroke-width="1" stroke-linejoin="round"  shape-rendering="crispEdges"/>
<polyline points="830.0,283.1 836.1,278.2 852.3,279.8 868.4,279.0 881.3,275.8 892.0,272.0" fill="none" stroke="#FF0000" stroke-width="1" stroke-linejoin="round"  shape-rendering="crispEdges"/>
<polyline points="942.6,260.0 945.8,259.7 957.1,258.1 973.2,256.5 987.7,254.8 994.2,256.5 1002.3,264.5 1010.3,275.8 1016.8,287.1 1020.0,293.5" fill="none" stroke="#FF0000" stroke-width="1" stroke-linejoin="round"  shape-rendering="crispEdges"/>
<polyline points="945.0,262.0 949.0,261.3 965.2,259.7 981.3,258.9 991.0,259.7 1000.6,267.7 1008.7,279.0 1015.2,290.3 1020.0,303.2" fill="none" stroke="#FF0000" stroke-width="1" stroke-linejoin="round"  shape-rendering="crispEdges"/>
<polyline points="950.0,264.0 953.9,263.7 973.2,263.7 987.7,264.5 997.4,271.0 1005.5,280.6 1013.5,293.5 1018.4,309.7" fill="none" stroke="#FF0000" stroke-width="1" stroke-linejoin="round"  shape-rendering="crispEdges"/>
<polyline points="830.0,304.8 836.1,300.0 852.3,302.4 868.4,300.0 884.5,293.5 900.6,287.1 916.8,280.6 932.9,271.0 942.6,264.5 949.0,262.1" fill="none" stroke="#FF0000" stroke-width="1" stroke-linejoin="round"  shape-rendering="crispEdges"/>
<polyline points="830.0,308.9 844.2,306.5 868.4,299.2 892.6,290.3 916.8,282.3 932.9,275.8 942.6,267.7 950.0,264.0" fill="none" stroke="#FF0000" stroke-width="1" stroke-linejoin="round"  shape-rendering="crispEdges"/>
<polyline points="991.7,329.0 994.6,330.2 995.8,331.4 1000.6,336.2 1004.2,346.9 1007.8,354.1 1011.4,363.6 1014.4,373.2 1016.2,380.0 1018.5,392.0 1020.0,405.0" fill="none" stroke="#FF0000" stroke-width="1" stroke-linejoin="round"  shape-rendering="crispEdges"/>
<polyline points="1003.0,280.0 1007.8,286.0 1012.6,293.1 1017.3,303.9 1019.7,315.2" fill="none" stroke="#FF0000" stroke-width="1" stroke-linejoin="round"  shape-rendering="crispEdges"/>
<polyline points="1009.0,280.0 1015.0,287.2 1019.7,289.6" fill="none" stroke="#FF0000" stroke-width="1" stroke-linejoin="round"  shape-rendering="crispEdges"/>
<polyline points="1015.0,280.0 1019.7,288.4" fill="none" stroke="#FF0000" stroke-width="1" stroke-linejoin="round"  shape-rendering="crispEdges"/>
<polyline points="830.0,356.5 836.1,356.3 852.3,355.5 868.4,353.9 878.1,347.4 897.4,345.0 916.8,345.8 932.9,347.4 949.0,346.6 965.2,344.2 974.8,341.0 981.3,336.1 987.7,331.3 991.8,329.7 995.8,332.1 1000.6,337.7 1005.5,347.4 1010.3,358.7 1015.2,370.0 1018.4,379.7 1020.0,388.0" fill="none" stroke="#FF0000" stroke-width="1" stroke-linejoin="round"  shape-rendering="crispEdges"/>
<polyline points="-1.3,459.5 1.9,464.8 8.4,472.9 13.2,484.2 18.1,492.3 22.9,500.3 29.3,506.0 35.8,510.0 47.1,510.8 60.0,510.0 72.9,509.2 85.8,508.4 92.2,506.8 98.7,511.6 105.2,521.3 111.6,529.4 116.4,534.2 121.3,531.8 126.1,524.5 132.6,513.2 139.0,501.9 145.5,496.3 150.3,497.1 156.8,503.5 163.2,511.6 169.7,519.7 176.1,527.7 181.0,531.0 187.4,526.1 192.2,521.3 198.7,517.3 203.7,513.0 208.7,510.0" fill="none" stroke="#FF0000" stroke-width="1" stroke-linejoin="round"  shape-rendering="crispEdges"/>
<polyline points="1.3,459.5 4.5,464.8 11.0,472.9 15.8,484.2 20.7,492.3 25.5,500.3 31.9,506.0 38.4,510.0 49.7,510.8 62.6,510.0 75.5,509.2 88.4,508.4 94.8,506.8 101.3,511.6 107.8,521.3 114.2,529.4 119.0,534.2 123.9,531.8 128.7,524.5 135.2,513.2 141.6,501.9 148.1,496.3 152.9,497.1 159.4,503.5 165.8,511.6 172.3,519.7 178.7,527.7 183.6,531.0 190.0,526.1 194.8,521.3 201.3,517.3 206.3,513.0 211.3,510.0" fill="none" stroke="#FF0000" stroke-width="1" stroke-linejoin="round"  shape-rendering="crispEdges"/>
<polyline points="208.7,510.0 214.8,514.8 227.7,513.2 237.7,508.8 245.2,504.5 251.7,500.2 259.2,495.3 266.7,492.1 273.2,489.4 280.7,484.0 287.1,477.6 292.5,471.1 297.1,461.9 302.9,456.9 308.8,450.6 313.8,450.2 318.8,448.9 323.8,445.2 328.8,442.2 333.9,439.3 338.9,438.9 345.6,439.7 351.1,439.3 357.8,433.5 361.6,428.8 365.5,424.0 370.2,417.3 373.1,411.5 378.9,404.9 384.6,400.1 390.3,396.3 396.1,392.4 400.8,391.0 405.6,390.5 409.4,391.5 413.3,394.3 417.1,398.2 418.7,401.2 423.0,405.5 429.5,414.1 435.9,424.8 440.2,428.1 446.7,430.2 453.1,425.9 458.5,416.2 463.9,402.3 468.2,388.3 470.3,376.5 472.5,370.0" fill="none" stroke="#FF0000" stroke-width="1" stroke-linejoin="round"  shape-rendering="crispEdges"/>
<polyline points="211.3,510.0 217.4,514.8 230.3,513.2 240.3,508.8 247.8,504.5 254.3,500.2 261.8,495.3 269.3,492.1 275.8,489.4 283.3,484.0 289.7,477.6 295.1,471.1 299.7,461.9 305.5,456.9 311.4,450.6 316.4,450.2 321.4,448.9 326.4,445.2 331.4,442.2 336.5,439.3 341.5,438.9 348.2,439.7 353.7,439.3 360.4,433.5 364.2,428.8 368.1,424.0 372.8,417.3 375.7,411.5 381.5,404.9 387.2,400.1 392.9,396.3 398.7,392.4 403.4,391.0 408.2,390.5 412.0,391.5 415.9,394.3 419.7,398.2 421.3,401.2 425.6,405.5 432.1,414.1 438.5,424.8 442.8,428.1 449.3,430.2 455.7,425.9 461.1,416.2 466.5,402.3 470.8,388.3 472.9,376.5 475.1,370.0" fill="none" stroke="#FF0000" stroke-width="1" stroke-linejoin="round"  shape-rendering="crispEdges"/>
<polyline points="472.5,370.0 472.9,368.1 474.5,360.5 476.7,356.2 482.0,350.9 489.6,346.0 497.1,339.0 501.4,333.7 506.8,331.5 515.4,329.9 524.0,322.9 530.4,314.3 534.7,311.0 538.7,309.0 546.6,309.4 553.2,312.0 558.4,317.3 565.0,318.6 571.6,315.3 578.1,306.1 584.7,299.6 591.3,295.0 593.9,295.6 599.1,301.5 604.4,309.4 609.7,319.9 613.6,329.1 617.5,341.0 621.5,346.2 628.1,348.8 633.3,348.8 638.7,346.2" fill="none" stroke="#FF0000" stroke-width="1" stroke-linejoin="round"  shape-rendering="crispEdges"/>
<polyline points="475.1,370.0 475.5,368.1 477.1,360.5 479.3,356.2 484.6,350.9 492.2,346.0 499.7,339.0 504.0,333.7 509.4,331.5 518.0,329.9 526.6,322.9 533.0,314.3 537.3,311.0 541.3,309.0 549.2,309.4 555.8,312.0 561.0,317.3 567.6,318.6 574.2,315.3 580.7,306.1 587.3,299.6 593.9,295.0 596.5,295.6 601.7,301.5 607.0,309.4 612.3,319.9 616.2,329.1 620.1,341.0 624.1,346.2 630.7,348.8 635.9,348.8 641.3,346.2" fill="none" stroke="#FF0000" stroke-width="1" stroke-linejoin="round"  shape-rendering="crispEdges"/>
<polyline points="638.7,346.2 641.6,340.3 648.1,332.3 654.5,325.8 661.0,319.4 665.8,316.9 672.2,319.4 680.3,320.2 688.4,317.7 696.4,313.7 702.9,311.3 709.3,312.1 714.2,316.1 719.0,322.6 725.5,332.3 731.9,338.7 736.8,337.1 741.6,332.3 748.1,325.8 754.5,319.4 762.6,313.7 770.6,308.9 777.1,305.6 783.5,306.5 790.0,309.7 796.4,311.3 802.9,309.7 811.0,303.2 819.0,296.8 828.7,291.1" fill="none" stroke="#FF0000" stroke-width="1" stroke-linejoin="round"  shape-rendering="crispEdges"/>
<polyline points="641.3,346.2 644.2,340.3 650.7,332.3 657.1,325.8 663.6,319.4 668.4,316.9 674.8,319.4 682.9,320.2 691.0,317.7 699.0,313.7 705.5,311.3 711.9,312.1 716.8,316.1 721.6,322.6 728.1,332.3 734.5,338.7 739.4,337.1 744.2,332.3 750.7,325.8 757.1,319.4 765.2,313.7 773.2,308.9 779.7,305.6 786.1,306.5 792.6,309.7 799.0,311.3 805.5,309.7 813.6,303.2 821.6,296.8 831.3,291.1" fill="none" stroke="#FF0000" stroke-width="1" stroke-linejoin="round"  shape-rendering="crispEdges"/>
<polyline points="828.7,291.1 834.8,290.3 842.9,291.9 851.0,296.8 855.8,301.6 862.2,303.2 867.1,301.6 873.5,295.2 880.0,287.1 888.1,279.0 896.1,272.6 904.2,267.7 915.5,262.9 925.2,257.3 933.2,253.2 941.3,252.4 947.7,258.1 954.2,264.5 960.6,267.7 970.3,269.4 980.0,271.0 986.4,272.6 989.7,275.8 992.9,283.9 996.1,296.8 999.3,312.9 1002.6,329.0" fill="none" stroke="#FF0000" stroke-width="1" stroke-linejoin="round"  shape-rendering="crispEdges"/>
<polyline points="831.3,291.1 837.4,290.3 845.5,291.9 853.6,296.8 858.4,301.6 864.8,303.2 869.7,301.6 876.1,295.2 882.6,287.1 890.7,279.0 898.7,272.6 906.8,267.7 918.1,262.9 927.8,257.3 935.8,253.2 943.9,252.4 950.3,258.1 956.8,264.5 963.2,267.7 972.9,269.4 982.6,271.0 989.0,272.6 992.3,275.8 995.5,283.9 998.7,296.8 1001.9,312.9 1005.2,329.0" fill="none" stroke="#FF0000" stroke-width="1" stroke-linejoin="round"  shape-rendering="crispEdges"/>
<polyline points="1002.6,329.0 1004.1,327.8 1006.5,339.7 1008.9,351.7 1011.9,363.6 1014.9,375.6 1016.7,380.0 1018.2,391.5 1019.2,421.6" fill="none" stroke="#FF0000" stroke-width="1" stroke-linejoin="round"  shape-rendering="crispEdges"/>
<polyline points="1005.2,329.0 1006.7,327.8 1009.1,339.7 1011.5,351.7 1014.5,363.6 1017.5,375.6 1019.3,380.0 1020.8,391.5 1021.8,421.6" fill="none" stroke="#FF0000" stroke-width="1" stroke-linejoin="round"  shape-rendering="crispEdges"/>
<polyline points="0.0,421.5 10.5,424.6 21.0,430.4 31.4,435.1 41.9,439.8 52.4,444.5 62.9,448.7 73.4,452.9 83.9,456.6 94.3,460.3 104.8,465.5 115.3,472.3 120.5,474.4 130.0,476.5 140.0,480.2 150.0,484.5 161.9,488.1 173.9,492.9 185.8,497.6 197.8,501.2 209.7,504.2 221.7,506.0 233.6,507.8 245.6,510.2 257.5,511.4 270.0,511.6" fill="none" stroke="#FF0000" stroke-width="3" stroke-linejoin="round" stroke-linecap="round" shape-rendering="crispEdges"/>
<polyline points="270.0,511.6 280.6,510.3 289.5,508.2 300.3,505.0 311.0,502.3 321.8,499.1 332.5,496.4 346.1,494.5 359.0,489.7 371.9,483.2 384.8,476.8 397.7,471.9 410.6,466.3 423.5,461.5 436.5,456.6 452.6,451.0 462.3,445.3 475.2,438.1 488.1,428.4 501.0,418.7 513.9,409.8 530.0,400.2" fill="none" stroke="#FF0000" stroke-width="3" stroke-linejoin="round" stroke-linecap="round" shape-rendering="crispEdges"/>
<polyline points="530.0,400.2 541.4,391.7 550.0,387.4 565.0,380.0 579.4,372.5 592.6,364.6 605.7,358.0 618.8,354.1 632.0,350.8 640.0,348.8" fill="none" stroke="#FF0000" stroke-width="3" stroke-linejoin="round" stroke-linecap="round" shape-rendering="crispEdges"/>
<polyline points="640.0,348.8 646.1,348.4 662.3,343.5 675.2,339.5 688.1,333.9 701.0,328.2 713.9,323.4 726.8,322.6 742.9,322.6 759.0,321.8 775.2,320.2 788.1,319.7 799.4,319.7 815.5,318.5 830.0,317.4" fill="none" stroke="#FF0000" stroke-width="3" stroke-linejoin="round" stroke-linecap="round" shape-rendering="crispEdges"/>
<polyline points="830.0,317.4 836.1,317.7 852.3,316.9 868.4,314.5 884.5,309.7 900.6,304.8 916.8,300.0 932.9,296.8 949.0,293.5 965.2,291.1 981.3,288.7 991.0,287.1 997.4,287.9 1005.5,290.3 1013.5,294.4 1020.0,298.4" fill="none" stroke="#FF0000" stroke-width="3" stroke-linejoin="round" stroke-linecap="round" shape-rendering="crispEdges"/>
</g>
<g shape-rendering="crispEdges">
<line x1="2.5" y1="466.8" x2="2.5" y2="491.6" stroke="#FF0000" stroke-width="1"/>
<rect x="1" y="470.6" width="3" height="19.9" fill="#FF0000"/>
<line x1="5.5" y1="471.0" x2="5.5" y2="485.8" stroke="#FF0000" stroke-width="1"/>
<rect x="4" y="476.9" width="3" height="3.3" fill="#FF0000"/>
<line x1="8.5" y1="472.6" x2="8.5" y2="484.2" stroke="#FF0000" stroke-width="1"/>
<rect x="7" y="473.4" width="3" height="2.7" fill="#FF0000"/>
<line x1="11.5" y1="489.6" x2="11.5" y2="501.2" stroke="#FF0000" stroke-width="1"/>
<rect x="10" y="490.2" width="3" height="10.1" fill="#FF0000"/>
<line x1="14.5" y1="503.1" x2="14.5" y2="517.6" stroke="#FF0000" stroke-width="1"/>
<rect x="13" y="506.3" width="3" height="6.3" fill="#FF0000"/>
<line x1="16.5" y1="501.0" x2="16.5" y2="517.6" stroke="#FF0000" stroke-width="1"/>
<rect x="15" y="503.2" width="3" height="9.0" fill="#FF0000"/>
<line x1="19.5" y1="511.9" x2="19.5" y2="527.6" stroke="#FF0000" stroke-width="1"/>
<rect x="18.5" y="513.3" width="2" height="11.4" fill="#FFFFFF" stroke="#FF0000" stroke-width="1"/>
<line x1="22.5" y1="505.1" x2="22.5" y2="513.2" stroke="#FF0000" stroke-width="1"/>
<rect x="21.5" y="506.3" width="2" height="6.1" fill="#FFFFFF" stroke="#FF0000" stroke-width="1"/>
<line x1="25.5" y1="499.4" x2="25.5" y2="506.5" stroke="#FF0000" stroke-width="1"/>
<rect x="24.5" y="500.5" width="2" height="2.0" fill="#FFFFFF" stroke="#FF0000" stroke-width="1"/>
<line x1="28.5" y1="499.7" x2="28.5" y2="507.2" stroke="#FF0000" stroke-width="1"/>
<rect x="27.5" y="502.6" width="2" height="2.4" fill="#FFFFFF" stroke="#FF0000" stroke-width="1"/>
<line x1="31.5" y1="497.2" x2="31.5" y2="510.0" stroke="#FF0000" stroke-width="1"/>
<rect x="30" y="499.5" width="3" height="8.4" fill="#FF0000"/>
<line x1="34.5" y1="509.1" x2="34.5" y2="515.9" stroke="#FF0000" stroke-width="1"/>
<rect x="33" y="512.6" width="3" height="2.8" fill="#FF0000"/>
<line x1="36.5" y1="508.0" x2="36.5" y2="516.3" stroke="#FF0000" stroke-width="1"/>
<rect x="35" y="508.4" width="3" height="4.9" fill="#FF0000"/>
<line x1="39.5" y1="510.2" x2="39.5" y2="517.6" stroke="#FF0000" stroke-width="1"/>
<rect x="38" y="510.6" width="3" height="6.1" fill="#FF0000"/>
<line x1="42.5" y1="513.0" x2="42.5" y2="522.0" stroke="#FF0000" stroke-width="1"/>
<rect x="41.5" y="515.6" width="2" height="4.5" fill="#FFFFFF" stroke="#FF0000" stroke-width="1"/>
<line x1="45.5" y1="510.2" x2="45.5" y2="523.1" stroke="#FF0000" stroke-width="1"/>
<rect x="44.5" y="514.2" width="2" height="6.2" fill="#FFFFFF" stroke="#FF0000" stroke-width="1"/>
<line x1="48.5" y1="503.8" x2="48.5" y2="511.6" stroke="#FF0000" stroke-width="1"/>
<rect x="47.5" y="505.3" width="2" height="4.7" fill="#FFFFFF" stroke="#FF0000" stroke-width="1"/>
<line x1="51.5" y1="501.9" x2="51.5" y2="508.0" stroke="#FF0000" stroke-width="1"/>
<rect x="50.5" y="505.2" width="2" height="2.0" fill="#FFFFFF" stroke="#FF0000" stroke-width="1"/>
<line x1="54.5" y1="501.9" x2="54.5" y2="508.5" stroke="#FF0000" stroke-width="1"/>
<rect x="53.5" y="502.8" width="2" height="3.5" fill="#FFFFFF" stroke="#FF0000" stroke-width="1"/>
<line x1="56.5" y1="501.2" x2="56.5" y2="507.7" stroke="#FF0000" stroke-width="1"/>
<rect x="55.5" y="501.4" width="2" height="5.6" fill="#FFFFFF" stroke="#FF0000" stroke-width="1"/>
<line x1="59.5" y1="503.8" x2="59.5" y2="519.5" stroke="#FF0000" stroke-width="1"/>
<rect x="58" y="513.1" width="3" height="3.5" fill="#FF0000"/>
<line x1="62.5" y1="504.7" x2="62.5" y2="520.1" stroke="#FF0000" stroke-width="1"/>
<rect x="61" y="513.3" width="3" height="5.5" fill="#FF0000"/>
<line x1="65.5" y1="514.0" x2="65.5" y2="524.2" stroke="#FF0000" stroke-width="1"/>
<rect x="64.5" y="519.2" width="2" height="4.3" fill="#FFFFFF" stroke="#FF0000" stroke-width="1"/>
<line x1="68.5" y1="512.6" x2="68.5" y2="526.8" stroke="#FF0000" stroke-width="1"/>
<rect x="67.5" y="516.7" width="2" height="4.4" fill="#FFFFFF" stroke="#FF0000" stroke-width="1"/>
<line x1="71.5" y1="503.8" x2="71.5" y2="511.5" stroke="#FF0000" stroke-width="1"/>
<rect x="70.5" y="504.3" width="2" height="4.5" fill="#FFFFFF" stroke="#FF0000" stroke-width="1"/>
<line x1="74.5" y1="502.5" x2="74.5" y2="509.6" stroke="#FF0000" stroke-width="1"/>
<rect x="73.5" y="504.9" width="2" height="2.1" fill="#FFFFFF" stroke="#FF0000" stroke-width="1"/>
<line x1="76.5" y1="495.4" x2="76.5" y2="502.6" stroke="#FF0000" stroke-width="1"/>
<rect x="75.5" y="497.8" width="2" height="2.0" fill="#FFFFFF" stroke="#FF0000" stroke-width="1"/>
<line x1="79.5" y1="496.2" x2="79.5" y2="502.7" stroke="#FF0000" stroke-width="1"/>
<rect x="78.5" y="498.0" width="2" height="3.8" fill="#FFFFFF" stroke="#FF0000" stroke-width="1"/>
<line x1="82.5" y1="500.2" x2="82.5" y2="507.4" stroke="#FF0000" stroke-width="1"/>
<rect x="81" y="501.4" width="3" height="5.8" fill="#FF0000"/>
<line x1="85.5" y1="496.4" x2="85.5" y2="509.2" stroke="#FF0000" stroke-width="1"/>
<rect x="84" y="501.0" width="3" height="7.1" fill="#FF0000"/>
<line x1="88.5" y1="497.1" x2="88.5" y2="507.6" stroke="#FF0000" stroke-width="1"/>
<rect x="87" y="502.2" width="3" height="2.5" fill="#FF0000"/>
<line x1="91.5" y1="501.8" x2="91.5" y2="511.0" stroke="#FF0000" stroke-width="1"/>
<rect x="90" y="502.5" width="3" height="7.9" fill="#FF0000"/>
<line x1="94.5" y1="508.7" x2="94.5" y2="517.7" stroke="#FF0000" stroke-width="1"/>
<rect x="93" y="509.0" width="3" height="8.2" fill="#FF0000"/>
<line x1="97.5" y1="511.6" x2="97.5" y2="534.8" stroke="#FF0000" stroke-width="1"/>
<rect x="96" y="527.6" width="3" height="4.9" fill="#FF0000"/>
<line x1="99.5" y1="508.4" x2="99.5" y2="537.7" stroke="#FF0000" stroke-width="1"/>
<rect x="98" y="515.5" width="3" height="8.8" fill="#FF0000"/>
<line x1="102.5" y1="508.6" x2="102.5" y2="535.0" stroke="#FF0000" stroke-width="1"/>
<rect x="101" y="520.7" width="3" height="14.2" fill="#FF0000"/>
<line x1="105.5" y1="531.7" x2="105.5" y2="537.7" stroke="#FF0000" stroke-width="1"/>
<rect x="104" y="532.1" width="3" height="2.0" fill="#FF0000"/>
<line x1="108.5" y1="531.5" x2="108.5" y2="537.1" stroke="#FF0000" stroke-width="1"/>
<rect x="107" y="531.9" width="3" height="3.0" fill="#FF0000"/>
<line x1="111.5" y1="520.6" x2="111.5" y2="532.8" stroke="#FF0000" stroke-width="1"/>
<rect x="110.5" y="522.2" width="2" height="9.9" fill="#FFFFFF" stroke="#FF0000" stroke-width="1"/>
<line x1="114.5" y1="528.0" x2="114.5" y2="534.1" stroke="#FF0000" stroke-width="1"/>
<rect x="113" y="531.5" width="3" height="2.5" fill="#FF0000"/>
<line x1="117.5" y1="528.2" x2="117.5" y2="535.1" stroke="#FF0000" stroke-width="1"/>
<rect x="116" y="530.0" width="3" height="2.1" fill="#FF0000"/>
<line x1="119.5" y1="520.7" x2="119.5" y2="532.9" stroke="#FF0000" stroke-width="1"/>
<rect x="118.5" y="522.3" width="2" height="8.4" fill="#FFFFFF" stroke="#FF0000" stroke-width="1"/>
<line x1="122.5" y1="511.4" x2="122.5" y2="528.5" stroke="#0000FF" stroke-width="1"/>
<rect x="121" y="514.5" width="3" height="10.2" fill="#0000FF"/>
<line x1="125.5" y1="488.0" x2="125.5" y2="508.3" stroke="#0000FF" stroke-width="1"/>
<rect x="124.5" y="491.7" width="2" height="13.1" fill="#FFFFFF" stroke="#0000FF" stroke-width="1"/>
<line x1="128.5" y1="483.6" x2="128.5" y2="492.9" stroke="#0000FF" stroke-width="1"/>
<rect x="127.5" y="484.5" width="2" height="8.0" fill="#FFFFFF" stroke="#0000FF" stroke-width="1"/>
<line x1="131.5" y1="486.8" x2="131.5" y2="496.3" stroke="#0000FF" stroke-width="1"/>
<rect x="130.5" y="487.6" width="2" height="7.2" fill="#FFFFFF" stroke="#0000FF" stroke-width="1"/>
<line x1="134.5" y1="490.5" x2="134.5" y2="497.8" stroke="#0000FF" stroke-width="1"/>
<rect x="133.5" y="492.0" width="2" height="4.2" fill="#FFFFFF" stroke="#0000FF" stroke-width="1"/>
<line x1="137.5" y1="491.9" x2="137.5" y2="496.4" stroke="#0000FF" stroke-width="1"/>
<rect x="136" y="492.2" width="3" height="3.9" fill="#0000FF"/>
<line x1="139.5" y1="498.1" x2="139.5" y2="505.9" stroke="#0000FF" stroke-width="1"/>
<rect x="138.5" y="499.3" width="2" height="5.1" fill="#FFFFFF" stroke="#0000FF" stroke-width="1"/>
<line x1="142.5" y1="500.1" x2="142.5" y2="506.8" stroke="#0000FF" stroke-width="1"/>
<rect x="141.5" y="501.1" width="2" height="4.5" fill="#FFFFFF" stroke="#0000FF" stroke-width="1"/>
<line x1="145.5" y1="498.9" x2="145.5" y2="506.5" stroke="#0000FF" stroke-width="1"/>
<rect x="144.5" y="501.5" width="2" height="4.3" fill="#FFFFFF" stroke="#0000FF" stroke-width="1"/>
<line x1="148.5" y1="497.0" x2="148.5" y2="507.2" stroke="#0000FF" stroke-width="1"/>
<rect x="147.5" y="502.8" width="2" height="2.8" fill="#FFFFFF" stroke="#0000FF" stroke-width="1"/>
<line x1="151.5" y1="497.4" x2="151.5" y2="502.7" stroke="#0000FF" stroke-width="1"/>
<rect x="150.5" y="498.6" width="2" height="3.6" fill="#FFFFFF" stroke="#0000FF" stroke-width="1"/>
<line x1="154.5" y1="501.9" x2="154.5" y2="510.9" stroke="#FF0000" stroke-width="1"/>
<rect x="153" y="502.7" width="3" height="4.4" fill="#FF0000"/>
<line x1="157.5" y1="500.2" x2="157.5" y2="508.1" stroke="#FF0000" stroke-width="1"/>
<rect x="156" y="503.0" width="3" height="4.4" fill="#FF0000"/>
<line x1="159.5" y1="509.5" x2="159.5" y2="520.0" stroke="#FF0000" stroke-width="1"/>
<rect x="158" y="511.8" width="3" height="6.6" fill="#FF0000"/>
<line x1="165.5" y1="520.8" x2="165.5" y2="530.0" stroke="#FF0000" stroke-width="1"/>
<rect x="164" y="521.3" width="3" height="8.4" fill="#FF0000"/>
<line x1="168.5" y1="525.6" x2="168.5" y2="538.4" stroke="#FF0000" stroke-width="1"/>
<rect x="167" y="532.6" width="3" height="5.2" fill="#FF0000"/>
<line x1="171.5" y1="527.7" x2="171.5" y2="538.1" stroke="#FF0000" stroke-width="1"/>
<rect x="170" y="528.8" width="3" height="5.5" fill="#FF0000"/>
<line x1="174.5" y1="527.1" x2="174.5" y2="536.6" stroke="#FF0000" stroke-width="1"/>
<rect x="173" y="527.9" width="3" height="7.4" fill="#FF0000"/>
<line x1="177.5" y1="522.2" x2="177.5" y2="532.7" stroke="#FF0000" stroke-width="1"/>
<rect x="176.5" y="522.8" width="2" height="7.8" fill="#FFFFFF" stroke="#FF0000" stroke-width="1"/>
<line x1="179.5" y1="526.1" x2="179.5" y2="530.9" stroke="#FF0000" stroke-width="1"/>
<rect x="178" y="526.8" width="3" height="3.1" fill="#FF0000"/>
<line x1="182.5" y1="515.3" x2="182.5" y2="526.3" stroke="#FF0000" stroke-width="1"/>
<rect x="181.5" y="516.7" width="2" height="8.2" fill="#FFFFFF" stroke="#FF0000" stroke-width="1"/>
<line x1="185.5" y1="510.0" x2="185.5" y2="515.0" stroke="#FF0000" stroke-width="1"/>
<rect x="184.5" y="510.6" width="2" height="2.0" fill="#FFFFFF" stroke="#FF0000" stroke-width="1"/>
<line x1="188.5" y1="511.7" x2="188.5" y2="515.6" stroke="#FF0000" stroke-width="1"/>
<rect x="187.5" y="513.0" width="2" height="2.0" fill="#FFFFFF" stroke="#FF0000" stroke-width="1"/>
<line x1="191.5" y1="504.9" x2="191.5" y2="513.9" stroke="#000000" stroke-width="1"/>
<rect x="190" y="505.7" width="3" height="7.0" fill="#000000"/>
<line x1="194.5" y1="507.2" x2="194.5" y2="511.8" stroke="#FF0000" stroke-width="1"/>
<rect x="193.5" y="507.4" width="2" height="3.7" fill="#FFFFFF" stroke="#FF0000" stroke-width="1"/>
<line x1="197.5" y1="506.4" x2="197.5" y2="510.0" stroke="#FF0000" stroke-width="1"/>
<rect x="196.5" y="507.3" width="2" height="2.0" fill="#FFFFFF" stroke="#FF0000" stroke-width="1"/>
<line x1="199.5" y1="506.6" x2="199.5" y2="510.8" stroke="#FF0000" stroke-width="1"/>
<rect x="198.5" y="507.4" width="2" height="2.4" fill="#FFFFFF" stroke="#FF0000" stroke-width="1"/>
<line x1="202.5" y1="510.2" x2="202.5" y2="516.3" stroke="#FF0000" stroke-width="1"/>
<rect x="201" y="511.0" width="3" height="4.3" fill="#FF0000"/>
<line x1="205.5" y1="513.2" x2="205.5" y2="520.7" stroke="#FF0000" stroke-width="1"/>
<rect x="204" y="514.1" width="3" height="5.0" fill="#FF0000"/>
<line x1="208.5" y1="516.8" x2="208.5" y2="524.1" stroke="#FF0000" stroke-width="1"/>
<rect x="207.5" y="518.3" width="2" height="5.2" fill="#FFFFFF" stroke="#FF0000" stroke-width="1"/>
<line x1="211.5" y1="521.0" x2="211.5" y2="528.4" stroke="#FF0000" stroke-width="1"/>
<rect x="210" y="521.5" width="3" height="4.0" fill="#FF0000"/>
<line x1="214.5" y1="520.3" x2="214.5" y2="527.2" stroke="#FF0000" stroke-width="1"/>
<rect x="213" y="521.9" width="3" height="3.2" fill="#FF0000"/>
<line x1="217.5" y1="512.5" x2="217.5" y2="521.1" stroke="#FF0000" stroke-width="1"/>
<rect x="216.5" y="513.1" width="2" height="4.8" fill="#FFFFFF" stroke="#FF0000" stroke-width="1"/>
<line x1="219.5" y1="512.2" x2="219.5" y2="521.0" stroke="#FF0000" stroke-width="1"/>
<rect x="218.5" y="518.0" width="2" height="2.2" fill="#FFFFFF" stroke="#FF0000" stroke-width="1"/>
<line x1="222.5" y1="511.2" x2="222.5" y2="514.9" stroke="#FF0000" stroke-width="1"/>
<rect x="221.5" y="512.0" width="2" height="2.5" fill="#FFFFFF" stroke="#FF0000" stroke-width="1"/>
<line x1="225.5" y1="509.3" x2="225.5" y2="513.2" stroke="#FF0000" stroke-width="1"/>
<rect x="224.5" y="509.5" width="2" height="2.1" fill="#FFFFFF" stroke="#FF0000" stroke-width="1"/>
<line x1="228.5" y1="508.4" x2="228.5" y2="513.2" stroke="#FF0000" stroke-width="1"/>
<rect x="227" y="509.5" width="3" height="2.0" fill="#FF0000"/>
<line x1="231.5" y1="508.4" x2="231.5" y2="512.7" stroke="#FF0000" stroke-width="1"/>
<rect x="230" y="509.5" width="3" height="2.0" fill="#FF0000"/>
<line x1="234.5" y1="505.2" x2="234.5" y2="511.4" stroke="#FF0000" stroke-width="1"/>
<rect x="233.5" y="505.7" width="2" height="4.4" fill="#FFFFFF" stroke="#FF0000" stroke-width="1"/>
<line x1="237.5" y1="504.0" x2="237.5" y2="509.7" stroke="#FF0000" stroke-width="1"/>
<rect x="236" y="504.5" width="3" height="4.1" fill="#FF0000"/>
<line x1="240.5" y1="502.3" x2="240.5" y2="507.6" stroke="#0000FF" stroke-width="1"/>
<rect x="239.5" y="503.4" width="2" height="3.9" fill="#FFFFFF" stroke="#0000FF" stroke-width="1"/>
<line x1="242.5" y1="497.7" x2="242.5" y2="502.1" stroke="#0000FF" stroke-width="1"/>
<rect x="241.5" y="498.5" width="2" height="2.8" fill="#FFFFFF" stroke="#0000FF" stroke-width="1"/>
<line x1="245.5" y1="493.5" x2="245.5" y2="499.0" stroke="#0000FF" stroke-width="1"/>
<rect x="244.5" y="494.3" width="2" height="4.0" fill="#FFFFFF" stroke="#0000FF" stroke-width="1"/>
<line x1="248.5" y1="487.5" x2="248.5" y2="491.1" stroke="#0000FF" stroke-width="1"/>
<rect x="247.5" y="489.5" width="2" height="2.0" fill="#FFFFFF" stroke="#0000FF" stroke-width="1"/>
<line x1="251.5" y1="488.4" x2="251.5" y2="491.5" stroke="#0000FF" stroke-width="1"/>
<rect x="250.5" y="488.4" width="2" height="2.0" fill="#FFFFFF" stroke="#0000FF" stroke-width="1"/>
<line x1="254.5" y1="491.6" x2="254.5" y2="499.5" stroke="#0000FF" stroke-width="1"/>
<rect x="253" y="492.8" width="3" height="6.1" fill="#0000FF"/>
<line x1="257.5" y1="492.7" x2="257.5" y2="501.1" stroke="#0000FF" stroke-width="1"/>
<rect x="256" y="493.0" width="3" height="6.3" fill="#0000FF"/>
<line x1="260.5" y1="489.6" x2="260.5" y2="495.5" stroke="#0000FF" stroke-width="1"/>
<rect x="259.5" y="490.4" width="2" height="4.9" fill="#FFFFFF" stroke="#0000FF" stroke-width="1"/>
<line x1="262.5" y1="488.3" x2="262.5" y2="493.7" stroke="#0000FF" stroke-width="1"/>
<rect x="261.5" y="489.4" width="2" height="3.8" fill="#FFFFFF" stroke="#0000FF" stroke-width="1"/>
<line x1="265.5" y1="488.1" x2="265.5" y2="492.7" stroke="#0000FF" stroke-width="1"/>
<rect x="264.5" y="488.8" width="2" height="3.4" fill="#FFFFFF" stroke="#0000FF" stroke-width="1"/>
<line x1="268.5" y1="487.0" x2="268.5" y2="491.6" stroke="#0000FF" stroke-width="1"/>
<rect x="267.5" y="487.7" width="2" height="2.2" fill="#FFFFFF" stroke="#0000FF" stroke-width="1"/>
<line x1="271.5" y1="486.6" x2="271.5" y2="492.6" stroke="#0000FF" stroke-width="1"/>
<rect x="270.5" y="486.7" width="2" height="2.0" fill="#FFFFFF" stroke="#0000FF" stroke-width="1"/>
<line x1="274.5" y1="481.1" x2="274.5" y2="488.9" stroke="#0000FF" stroke-width="1"/>
<rect x="273.5" y="482.1" width="2" height="6.2" fill="#FFFFFF" stroke="#0000FF" stroke-width="1"/>
<line x1="277.5" y1="475.5" x2="277.5" y2="482.4" stroke="#0000FF" stroke-width="1"/>
<rect x="276.5" y="478.0" width="2" height="3.2" fill="#FFFFFF" stroke="#0000FF" stroke-width="1"/>
<line x1="280.5" y1="475.6" x2="280.5" y2="482.8" stroke="#0000FF" stroke-width="1"/>
<rect x="279.5" y="476.5" width="2" height="4.3" fill="#FFFFFF" stroke="#0000FF" stroke-width="1"/>
<line x1="282.5" y1="471.2" x2="282.5" y2="476.4" stroke="#0000FF" stroke-width="1"/>
<rect x="281.5" y="471.5" width="2" height="3.9" fill="#FFFFFF" stroke="#0000FF" stroke-width="1"/>
<line x1="285.5" y1="463.9" x2="285.5" y2="471.0" stroke="#0000FF" stroke-width="1"/>
<rect x="284.5" y="465.5" width="2" height="4.0" fill="#FFFFFF" stroke="#0000FF" stroke-width="1"/>
<line x1="288.5" y1="458.6" x2="288.5" y2="465.8" stroke="#0000FF" stroke-width="1"/>
<rect x="287.5" y="459.7" width="2" height="4.7" fill="#FFFFFF" stroke="#0000FF" stroke-width="1"/>
<line x1="291.5" y1="457.9" x2="291.5" y2="465.2" stroke="#0000FF" stroke-width="1"/>
<rect x="290" y="459.0" width="3" height="5.4" fill="#0000FF"/>
<line x1="294.5" y1="456.2" x2="294.5" y2="461.9" stroke="#0000FF" stroke-width="1"/>
<rect x="293.5" y="457.0" width="2" height="4.0" fill="#FFFFFF" stroke="#0000FF" stroke-width="1"/>
<line x1="297.5" y1="443.5" x2="297.5" y2="457.5" stroke="#0000FF" stroke-width="1"/>
<rect x="296.5" y="444.7" width="2" height="12.4" fill="#FFFFFF" stroke="#0000FF" stroke-width="1"/>
<line x1="300.5" y1="437.4" x2="300.5" y2="445.0" stroke="#0000FF" stroke-width="1"/>
<rect x="299.5" y="439.0" width="2" height="5.3" fill="#FFFFFF" stroke="#0000FF" stroke-width="1"/>
<line x1="302.5" y1="433.0" x2="302.5" y2="449.7" stroke="#0000FF" stroke-width="1"/>
<rect x="301" y="434.2" width="3" height="14.4" fill="#0000FF"/>
<line x1="305.5" y1="449.4" x2="305.5" y2="454.3" stroke="#0000FF" stroke-width="1"/>
<rect x="304" y="449.8" width="3" height="3.7" fill="#0000FF"/>
<line x1="308.5" y1="446.1" x2="308.5" y2="453.2" stroke="#0000FF" stroke-width="1"/>
<rect x="307.5" y="446.4" width="2" height="5.4" fill="#FFFFFF" stroke="#0000FF" stroke-width="1"/>
<line x1="311.5" y1="440.2" x2="311.5" y2="449.8" stroke="#0000FF" stroke-width="1"/>
<rect x="310" y="441.2" width="3" height="7.8" fill="#0000FF"/>
<line x1="314.5" y1="449.8" x2="314.5" y2="461.4" stroke="#0000FF" stroke-width="1"/>
<rect x="313" y="452.2" width="3" height="7.0" fill="#0000FF"/>
<line x1="317.5" y1="449.4" x2="317.5" y2="454.9" stroke="#0000FF" stroke-width="1"/>
<rect x="316.5" y="450.3" width="2" height="3.7" fill="#FFFFFF" stroke="#0000FF" stroke-width="1"/>
<line x1="320.5" y1="444.5" x2="320.5" y2="449.1" stroke="#0000FF" stroke-width="1"/>
<rect x="319" y="445.1" width="3" height="3.6" fill="#0000FF"/>
<line x1="322.5" y1="433.4" x2="322.5" y2="443.8" stroke="#0000FF" stroke-width="1"/>
<rect x="321.5" y="435.3" width="2" height="6.7" fill="#FFFFFF" stroke="#0000FF" stroke-width="1"/>
<line x1="325.5" y1="430.7" x2="325.5" y2="436.6" stroke="#0000FF" stroke-width="1"/>
<rect x="324.5" y="431.7" width="2" height="4.2" fill="#FFFFFF" stroke="#0000FF" stroke-width="1"/>
<line x1="328.5" y1="427.6" x2="328.5" y2="434.0" stroke="#0000FF" stroke-width="1"/>
<rect x="327.5" y="428.5" width="2" height="4.3" fill="#FFFFFF" stroke="#0000FF" stroke-width="1"/>
<line x1="331.5" y1="430.1" x2="331.5" y2="440.6" stroke="#0000FF" stroke-width="1"/>
<rect x="330" y="432.0" width="3" height="6.8" fill="#0000FF"/>
<line x1="334.5" y1="438.8" x2="334.5" y2="444.1" stroke="#0000FF" stroke-width="1"/>
<rect x="333.5" y="439.1" width="2" height="4.8" fill="#FFFFFF" stroke="#0000FF" stroke-width="1"/>
<line x1="337.5" y1="433.3" x2="337.5" y2="439.7" stroke="#0000FF" stroke-width="1"/>
<rect x="336.5" y="433.9" width="2" height="5.0" fill="#FFFFFF" stroke="#0000FF" stroke-width="1"/>
<line x1="340.5" y1="434.7" x2="340.5" y2="446.4" stroke="#0000FF" stroke-width="1"/>
<rect x="339" y="436.3" width="3" height="9.2" fill="#0000FF"/>
<line x1="342.5" y1="440.2" x2="342.5" y2="447.5" stroke="#0000FF" stroke-width="1"/>
<rect x="341.5" y="440.5" width="2" height="5.4" fill="#FFFFFF" stroke="#0000FF" stroke-width="1"/>
<line x1="345.5" y1="437.1" x2="345.5" y2="441.8" stroke="#0000FF" stroke-width="1"/>
<rect x="344.5" y="437.7" width="2" height="3.3" fill="#FFFFFF" stroke="#0000FF" stroke-width="1"/>
<line x1="348.5" y1="440.2" x2="348.5" y2="445.3" stroke="#0000FF" stroke-width="1"/>
<rect x="347.5" y="441.1" width="2" height="3.8" fill="#FFFFFF" stroke="#0000FF" stroke-width="1"/>
<line x1="351.5" y1="433.5" x2="351.5" y2="443.4" stroke="#0000FF" stroke-width="1"/>
<rect x="350.5" y="435.0" width="2" height="7.2" fill="#FFFFFF" stroke="#0000FF" stroke-width="1"/>
<line x1="354.5" y1="417.2" x2="354.5" y2="434.2" stroke="#0000FF" stroke-width="1"/>
<rect x="353.5" y="420.7" width="2" height="12.1" fill="#FFFFFF" stroke="#0000FF" stroke-width="1"/>
<line x1="357.5" y1="410.5" x2="357.5" y2="419.3" stroke="#0000FF" stroke-width="1"/>
<rect x="356.5" y="411.1" width="2" height="6.9" fill="#FFFFFF" stroke="#0000FF" stroke-width="1"/>
<line x1="360.5" y1="410.2" x2="360.5" y2="416.5" stroke="#0000FF" stroke-width="1"/>
<rect x="359.5" y="411.3" width="2" height="4.4" fill="#FFFFFF" stroke="#0000FF" stroke-width="1"/>
<line x1="362.5" y1="406.9" x2="362.5" y2="415.7" stroke="#0000FF" stroke-width="1"/>
<rect x="361.5" y="408.0" width="2" height="5.9" fill="#FFFFFF" stroke="#0000FF" stroke-width="1"/>
<line x1="365.5" y1="405.2" x2="365.5" y2="414.2" stroke="#0000FF" stroke-width="1"/>
<rect x="364.5" y="406.3" width="2" height="6.4" fill="#FFFFFF" stroke="#0000FF" stroke-width="1"/>
<line x1="368.5" y1="405.2" x2="368.5" y2="413.3" stroke="#0000FF" stroke-width="1"/>
<rect x="367" y="406.7" width="3" height="4.9" fill="#0000FF"/>
<line x1="371.5" y1="403.9" x2="371.5" y2="411.6" stroke="#0000FF" stroke-width="1"/>
<rect x="370.5" y="406.7" width="2" height="2.0" fill="#FFFFFF" stroke="#0000FF" stroke-width="1"/>
<line x1="374.5" y1="404.8" x2="374.5" y2="412.3" stroke="#0000FF" stroke-width="1"/>
<rect x="373.5" y="406.2" width="2" height="4.4" fill="#FFFFFF" stroke="#0000FF" stroke-width="1"/>
<line x1="377.5" y1="396.5" x2="377.5" y2="404.6" stroke="#0000FF" stroke-width="1"/>
<rect x="376.5" y="398.2" width="2" height="6.1" fill="#FFFFFF" stroke="#0000FF" stroke-width="1"/>
<line x1="380.5" y1="397.6" x2="380.5" y2="401.6" stroke="#0000FF" stroke-width="1"/>
<rect x="379.5" y="397.9" width="2" height="3.3" fill="#FFFFFF" stroke="#0000FF" stroke-width="1"/>
<line x1="383.5" y1="390.7" x2="383.5" y2="395.7" stroke="#0000FF" stroke-width="1"/>
<rect x="382.5" y="391.1" width="2" height="4.3" fill="#FFFFFF" stroke="#0000FF" stroke-width="1"/>
<line x1="385.5" y1="389.4" x2="385.5" y2="399.8" stroke="#0000FF" stroke-width="1"/>
<rect x="384.5" y="391.5" width="2" height="7.2" fill="#FFFFFF" stroke="#0000FF" stroke-width="1"/>
<line x1="388.5" y1="387.5" x2="388.5" y2="391.5" stroke="#0000FF" stroke-width="1"/>
<rect x="387.5" y="388.2" width="2" height="2.9" fill="#FFFFFF" stroke="#0000FF" stroke-width="1"/>
<line x1="391.5" y1="387.8" x2="391.5" y2="394.0" stroke="#0000FF" stroke-width="1"/>
<rect x="390.5" y="388.4" width="2" height="5.3" fill="#FFFFFF" stroke="#0000FF" stroke-width="1"/>
<line x1="394.5" y1="382.2" x2="394.5" y2="387.9" stroke="#0000FF" stroke-width="1"/>
<rect x="393.5" y="382.8" width="2" height="4.5" fill="#FFFFFF" stroke="#0000FF" stroke-width="1"/>
<line x1="397.5" y1="390.8" x2="397.5" y2="403.2" stroke="#0000FF" stroke-width="1"/>
<rect x="396.5" y="391.2" width="2" height="10.0" fill="#FFFFFF" stroke="#0000FF" stroke-width="1"/>
<line x1="400.5" y1="388.1" x2="400.5" y2="393.4" stroke="#0000FF" stroke-width="1"/>
<rect x="399" y="388.6" width="3" height="3.7" fill="#0000FF"/>
<line x1="403.5" y1="391.0" x2="403.5" y2="395.8" stroke="#0000FF" stroke-width="1"/>
<rect x="402.5" y="393.1" width="2" height="2.4" fill="#FFFFFF" stroke="#0000FF" stroke-width="1"/>
<line x1="405.5" y1="389.0" x2="405.5" y2="394.3" stroke="#0000FF" stroke-width="1"/>
<rect x="404.5" y="390.8" width="2" height="2.5" fill="#FFFFFF" stroke="#0000FF" stroke-width="1"/>
<line x1="408.5" y1="389.2" x2="408.5" y2="391.8" stroke="#0000FF" stroke-width="1"/>
<rect x="407.5" y="389.5" width="2" height="2.1" fill="#FFFFFF" stroke="#0000FF" stroke-width="1"/>
<line x1="411.5" y1="396.8" x2="411.5" y2="407.1" stroke="#FF0000" stroke-width="1"/>
<rect x="410" y="398.0" width="3" height="8.7" fill="#FF0000"/>
<line x1="414.5" y1="404.8" x2="414.5" y2="416.0" stroke="#FF0000" stroke-width="1"/>
<rect x="413" y="407.0" width="3" height="7.5" fill="#FF0000"/>
<line x1="417.5" y1="405.2" x2="417.5" y2="416.3" stroke="#FF0000" stroke-width="1"/>
<rect x="416" y="407.5" width="3" height="7.6" fill="#FF0000"/>
<line x1="420.5" y1="419.8" x2="420.5" y2="432.6" stroke="#FF0000" stroke-width="1"/>
<rect x="419" y="422.3" width="3" height="8.7" fill="#FF0000"/>
<line x1="423.5" y1="417.4" x2="423.5" y2="427.6" stroke="#FF0000" stroke-width="1"/>
<rect x="422" y="420.5" width="3" height="2.7" fill="#FF0000"/>
<line x1="425.5" y1="417.9" x2="425.5" y2="425.7" stroke="#FF0000" stroke-width="1"/>
<rect x="424" y="420.5" width="3" height="3.9" fill="#FF0000"/>
<line x1="428.5" y1="421.7" x2="428.5" y2="431.3" stroke="#FF0000" stroke-width="1"/>
<rect x="427" y="425.6" width="3" height="3.8" fill="#FF0000"/>
<line x1="431.5" y1="423.5" x2="431.5" y2="431.9" stroke="#FF0000" stroke-width="1"/>
<rect x="430" y="426.7" width="3" height="2.0" fill="#FF0000"/>
<line x1="434.5" y1="424.7" x2="434.5" y2="432.9" stroke="#FF0000" stroke-width="1"/>
<rect x="433.5" y="426.4" width="2" height="3.1" fill="#FFFFFF" stroke="#FF0000" stroke-width="1"/>
<line x1="437.5" y1="425.4" x2="437.5" y2="432.4" stroke="#FF0000" stroke-width="1"/>
<rect x="436" y="426.2" width="3" height="2.1" fill="#FF0000"/>
<line x1="440.5" y1="427.9" x2="440.5" y2="436.1" stroke="#FF0000" stroke-width="1"/>
<rect x="439" y="428.7" width="3" height="4.3" fill="#FF0000"/>
<line x1="443.5" y1="430.2" x2="443.5" y2="437.2" stroke="#FF0000" stroke-width="1"/>
<rect x="442" y="433.6" width="3" height="2.5" fill="#FF0000"/>
<line x1="445.5" y1="416.2" x2="445.5" y2="434.2" stroke="#FF0000" stroke-width="1"/>
<rect x="444.5" y="419.3" width="2" height="12.6" fill="#FFFFFF" stroke="#FF0000" stroke-width="1"/>
<line x1="448.5" y1="426.3" x2="448.5" y2="430.8" stroke="#FF0000" stroke-width="1"/>
<rect x="447" y="427.5" width="3" height="2.1" fill="#FF0000"/>
<line x1="451.5" y1="427.5" x2="451.5" y2="431.1" stroke="#FF0000" stroke-width="1"/>
<rect x="450.5" y="429.0" width="2" height="2.0" fill="#FFFFFF" stroke="#FF0000" stroke-width="1"/>
<line x1="454.5" y1="426.1" x2="454.5" y2="431.3" stroke="#FF0000" stroke-width="1"/>
<rect x="453" y="426.1" width="3" height="2.9" fill="#FF0000"/>
<line x1="457.5" y1="375.8" x2="457.5" y2="423.6" stroke="#0000FF" stroke-width="1"/>
<rect x="456.5" y="384.6" width="2" height="28.8" fill="#FFFFFF" stroke="#0000FF" stroke-width="1"/>
<line x1="460.5" y1="372.6" x2="460.5" y2="387.6" stroke="#0000FF" stroke-width="1"/>
<rect x="459.5" y="378.6" width="2" height="8.6" fill="#FFFFFF" stroke="#0000FF" stroke-width="1"/>
<line x1="463.5" y1="373.8" x2="463.5" y2="389.0" stroke="#0000FF" stroke-width="1"/>
<rect x="462.5" y="381.2" width="2" height="5.8" fill="#FFFFFF" stroke="#0000FF" stroke-width="1"/>
<line x1="465.5" y1="353.3" x2="465.5" y2="373.2" stroke="#0000FF" stroke-width="1"/>
<rect x="464.5" y="357.6" width="2" height="14.6" fill="#FFFFFF" stroke="#0000FF" stroke-width="1"/>
<line x1="468.5" y1="344.3" x2="468.5" y2="361.9" stroke="#0000FF" stroke-width="1"/>
<rect x="467.5" y="347.6" width="2" height="10.7" fill="#FFFFFF" stroke="#0000FF" stroke-width="1"/>
<line x1="471.5" y1="342.9" x2="471.5" y2="357.9" stroke="#0000FF" stroke-width="1"/>
<rect x="470" y="344.4" width="3" height="3.0" fill="#0000FF"/>
<line x1="474.5" y1="337.5" x2="474.5" y2="356.3" stroke="#0000FF" stroke-width="1"/>
<rect x="473" y="346.8" width="3" height="9.1" fill="#0000FF"/>
<line x1="477.5" y1="339.3" x2="477.5" y2="355.8" stroke="#0000FF" stroke-width="1"/>
<rect x="476" y="347.2" width="3" height="6.2" fill="#0000FF"/>
<line x1="480.5" y1="341.2" x2="480.5" y2="354.1" stroke="#0000FF" stroke-width="1"/>
<rect x="479" y="344.1" width="3" height="5.6" fill="#0000FF"/>
<line x1="483.5" y1="330.5" x2="483.5" y2="353.0" stroke="#0000FF" stroke-width="1"/>
<rect x="482.5" y="333.5" width="2" height="14.6" fill="#FFFFFF" stroke="#0000FF" stroke-width="1"/>
<line x1="485.5" y1="330.8" x2="485.5" y2="354.7" stroke="#0000FF" stroke-width="1"/>
<rect x="484.5" y="335.3" width="2" height="17.6" fill="#FFFFFF" stroke="#0000FF" stroke-width="1"/>
<line x1="488.5" y1="325.2" x2="488.5" y2="335.9" stroke="#0000FF" stroke-width="1"/>
<rect x="487.5" y="328.7" width="2" height="2.3" fill="#FFFFFF" stroke="#0000FF" stroke-width="1"/>
<line x1="491.5" y1="324.1" x2="491.5" y2="335.4" stroke="#0000FF" stroke-width="1"/>
<rect x="490.5" y="331.3" width="2" height="3.1" fill="#FFFFFF" stroke="#0000FF" stroke-width="1"/>
<line x1="494.5" y1="324.1" x2="494.5" y2="335.4" stroke="#0000FF" stroke-width="1"/>
<rect x="493.5" y="327.5" width="2" height="3.3" fill="#FFFFFF" stroke="#0000FF" stroke-width="1"/>
<line x1="497.5" y1="325.4" x2="497.5" y2="335.5" stroke="#0000FF" stroke-width="1"/>
<rect x="496.5" y="329.2" width="2" height="4.8" fill="#FFFFFF" stroke="#0000FF" stroke-width="1"/>
<line x1="500.5" y1="325.1" x2="500.5" y2="335.2" stroke="#0000FF" stroke-width="1"/>
<rect x="499.5" y="327.5" width="2" height="2.0" fill="#FFFFFF" stroke="#0000FF" stroke-width="1"/>
<line x1="503.5" y1="324.1" x2="503.5" y2="339.3" stroke="#0000FF" stroke-width="1"/>
<rect x="502" y="325.9" width="3" height="6.1" fill="#0000FF"/>
<line x1="505.5" y1="324.3" x2="505.5" y2="339.0" stroke="#0000FF" stroke-width="1"/>
<rect x="504" y="326.7" width="3" height="5.7" fill="#0000FF"/>
<line x1="508.5" y1="337.5" x2="508.5" y2="348.6" stroke="#0000FF" stroke-width="1"/>
<rect x="507" y="339.2" width="3" height="7.8" fill="#0000FF"/>
<line x1="511.5" y1="325.2" x2="511.5" y2="337.8" stroke="#0000FF" stroke-width="1"/>
<rect x="510.5" y="325.5" width="2" height="7.1" fill="#FFFFFF" stroke="#0000FF" stroke-width="1"/>
<line x1="514.5" y1="326.7" x2="514.5" y2="337.9" stroke="#0000FF" stroke-width="1"/>
<rect x="513.5" y="326.9" width="2" height="2.5" fill="#FFFFFF" stroke="#0000FF" stroke-width="1"/>
<line x1="517.5" y1="325.8" x2="517.5" y2="336.9" stroke="#0000FF" stroke-width="1"/>
<rect x="516.5" y="326.8" width="2" height="5.4" fill="#FFFFFF" stroke="#0000FF" stroke-width="1"/>
<line x1="520.5" y1="318.8" x2="520.5" y2="324.7" stroke="#0000FF" stroke-width="1"/>
<rect x="519.5" y="319.3" width="2" height="5.1" fill="#FFFFFF" stroke="#0000FF" stroke-width="1"/>
<line x1="523.5" y1="310.5" x2="523.5" y2="317.3" stroke="#0000FF" stroke-width="1"/>
<rect x="522.5" y="313.7" width="2" height="2.0" fill="#FFFFFF" stroke="#0000FF" stroke-width="1"/>
<line x1="526.5" y1="310.8" x2="526.5" y2="319.1" stroke="#0000FF" stroke-width="1"/>
<rect x="525.5" y="314.9" width="2" height="2.7" fill="#FFFFFF" stroke="#0000FF" stroke-width="1"/>
<line x1="528.5" y1="297.8" x2="528.5" y2="311.1" stroke="#0000FF" stroke-width="1"/>
<rect x="527.5" y="299.3" width="2" height="11.2" fill="#FFFFFF" stroke="#0000FF" stroke-width="1"/>
<line x1="531.5" y1="290.3" x2="531.5" y2="298.4" stroke="#0000FF" stroke-width="1"/>
<rect x="530.5" y="294.9" width="2" height="3.0" fill="#FFFFFF" stroke="#0000FF" stroke-width="1"/>
<line x1="534.5" y1="291.4" x2="534.5" y2="301.6" stroke="#0000FF" stroke-width="1"/>
<rect x="533.5" y="296.5" width="2" height="3.6" fill="#FFFFFF" stroke="#0000FF" stroke-width="1"/>
<line x1="537.5" y1="287.5" x2="537.5" y2="297.4" stroke="#0000FF" stroke-width="1"/>
<rect x="536.5" y="292.8" width="2" height="2.3" fill="#FFFFFF" stroke="#0000FF" stroke-width="1"/>
<line x1="540.5" y1="287.0" x2="540.5" y2="296.3" stroke="#0000FF" stroke-width="1"/>
<rect x="539.5" y="288.9" width="2" height="3.5" fill="#FFFFFF" stroke="#0000FF" stroke-width="1"/>
<line x1="543.5" y1="287.4" x2="543.5" y2="335.5" stroke="#0000FF" stroke-width="1"/>
<rect x="542" y="294.6" width="3" height="37.2" fill="#0000FF"/>
<line x1="546.5" y1="291.7" x2="546.5" y2="332.9" stroke="#0000FF" stroke-width="1"/>
<rect x="545.5" y="295.8" width="2" height="32.2" fill="#FFFFFF" stroke="#0000FF" stroke-width="1"/>
<line x1="548.5" y1="304.9" x2="548.5" y2="332.5" stroke="#0000FF" stroke-width="1"/>
<rect x="547.5" y="306.2" width="2" height="7.7" fill="#FFFFFF" stroke="#0000FF" stroke-width="1"/>
<line x1="551.5" y1="307.0" x2="551.5" y2="330.0" stroke="#0000FF" stroke-width="1"/>
<rect x="550.5" y="307.4" width="2" height="13.4" fill="#FFFFFF" stroke="#0000FF" stroke-width="1"/>
<line x1="554.5" y1="305.0" x2="554.5" y2="333.8" stroke="#0000FF" stroke-width="1"/>
<rect x="553" y="313.8" width="3" height="14.1" fill="#0000FF"/>
<line x1="557.5" y1="320.7" x2="557.5" y2="326.6" stroke="#0000FF" stroke-width="1"/>
<rect x="556" y="324.2" width="3" height="2.3" fill="#0000FF"/>
<line x1="560.5" y1="320.1" x2="560.5" y2="328.9" stroke="#0000FF" stroke-width="1"/>
<rect x="559" y="322.7" width="3" height="2.7" fill="#0000FF"/>
<line x1="563.5" y1="307.3" x2="563.5" y2="319.8" stroke="#0000FF" stroke-width="1"/>
<rect x="562.5" y="314.6" width="2" height="3.4" fill="#FFFFFF" stroke="#0000FF" stroke-width="1"/>
<line x1="566.5" y1="305.9" x2="566.5" y2="319.8" stroke="#0000FF" stroke-width="1"/>
<rect x="565.5" y="310.1" width="2" height="7.0" fill="#FFFFFF" stroke="#0000FF" stroke-width="1"/>
<line x1="568.5" y1="305.3" x2="568.5" y2="316.9" stroke="#0000FF" stroke-width="1"/>
<rect x="567" y="311.3" width="3" height="4.0" fill="#0000FF"/>
<line x1="571.5" y1="305.2" x2="571.5" y2="317.7" stroke="#0000FF" stroke-width="1"/>
<rect x="570" y="309.0" width="3" height="3.3" fill="#0000FF"/>
<line x1="574.5" y1="306.9" x2="574.5" y2="310.6" stroke="#0000FF" stroke-width="1"/>
<rect x="573.5" y="307.1" width="2" height="3.0" fill="#FFFFFF" stroke="#0000FF" stroke-width="1"/>
<line x1="577.5" y1="292.6" x2="577.5" y2="300.7" stroke="#0000FF" stroke-width="1"/>
<rect x="576.5" y="293.5" width="2" height="3.7" fill="#FFFFFF" stroke="#0000FF" stroke-width="1"/>
<line x1="580.5" y1="294.7" x2="580.5" y2="304.2" stroke="#0000FF" stroke-width="1"/>
<rect x="579.5" y="295.4" width="2" height="5.6" fill="#FFFFFF" stroke="#0000FF" stroke-width="1"/>
<line x1="583.5" y1="286.5" x2="583.5" y2="296.5" stroke="#0000FF" stroke-width="1"/>
<rect x="582.5" y="287.6" width="2" height="5.6" fill="#FFFFFF" stroke="#0000FF" stroke-width="1"/>
<line x1="586.5" y1="286.3" x2="586.5" y2="298.4" stroke="#0000FF" stroke-width="1"/>
<rect x="585.5" y="291.0" width="2" height="6.1" fill="#FFFFFF" stroke="#0000FF" stroke-width="1"/>
<line x1="588.5" y1="285.5" x2="588.5" y2="296.3" stroke="#0000FF" stroke-width="1"/>
<rect x="587.5" y="287.4" width="2" height="3.3" fill="#FFFFFF" stroke="#0000FF" stroke-width="1"/>
<line x1="591.5" y1="285.1" x2="591.5" y2="293.3" stroke="#0000FF" stroke-width="1"/>
<rect x="590.5" y="285.7" width="2" height="7.0" fill="#FFFFFF" stroke="#0000FF" stroke-width="1"/>
<line x1="594.5" y1="294.4" x2="594.5" y2="298.1" stroke="#0000FF" stroke-width="1"/>
<rect x="593.5" y="294.6" width="2" height="3.3" fill="#FFFFFF" stroke="#0000FF" stroke-width="1"/>
<line x1="597.5" y1="304.9" x2="597.5" y2="328.2" stroke="#0000FF" stroke-width="1"/>
<rect x="596" y="313.8" width="3" height="9.5" fill="#0000FF"/>
<line x1="600.5" y1="307.5" x2="600.5" y2="329.1" stroke="#0000FF" stroke-width="1"/>
<rect x="599" y="307.6" width="3" height="4.6" fill="#0000FF"/>
<line x1="603.5" y1="303.2" x2="603.5" y2="333.4" stroke="#0000FF" stroke-width="1"/>
<rect x="602" y="310.2" width="3" height="11.5" fill="#0000FF"/>
<line x1="606.5" y1="321.0" x2="606.5" y2="338.0" stroke="#FF0000" stroke-width="1"/>
<rect x="605" y="321.6" width="3" height="13.9" fill="#FF0000"/>
<line x1="608.5" y1="329.3" x2="608.5" y2="349.2" stroke="#FF0000" stroke-width="1"/>
<rect x="607" y="337.2" width="3" height="4.6" fill="#FF0000"/>
<line x1="611.5" y1="332.8" x2="611.5" y2="347.8" stroke="#FF0000" stroke-width="1"/>
<rect x="610" y="337.7" width="3" height="7.7" fill="#FF0000"/>
<line x1="614.5" y1="333.8" x2="614.5" y2="347.5" stroke="#FF0000" stroke-width="1"/>
<rect x="613" y="336.3" width="3" height="6.7" fill="#FF0000"/>
<line x1="617.5" y1="350.7" x2="617.5" y2="369.0" stroke="#FF0000" stroke-width="1"/>
<rect x="616" y="365.0" width="3" height="4.0" fill="#FF0000"/>
<line x1="620.5" y1="354.3" x2="620.5" y2="372.6" stroke="#FF0000" stroke-width="1"/>
<rect x="619" y="360.8" width="3" height="10.4" fill="#FF0000"/>
<line x1="623.5" y1="345.6" x2="623.5" y2="369.0" stroke="#FF0000" stroke-width="1"/>
<rect x="622" y="355.1" width="3" height="8.1" fill="#FF0000"/>
<line x1="626.5" y1="350.5" x2="626.5" y2="368.5" stroke="#FF0000" stroke-width="1"/>
<rect x="625" y="351.2" width="3" height="7.5" fill="#FF0000"/>
<line x1="628.5" y1="346.2" x2="628.5" y2="369.3" stroke="#FF0000" stroke-width="1"/>
<rect x="627" y="355.3" width="3" height="6.1" fill="#FF0000"/>
<line x1="631.5" y1="331.5" x2="631.5" y2="344.3" stroke="#FF0000" stroke-width="1"/>
<rect x="630" y="335.0" width="3" height="7.6" fill="#FF0000"/>
<line x1="634.5" y1="330.8" x2="634.5" y2="343.7" stroke="#FF0000" stroke-width="1"/>
<rect x="633" y="336.5" width="3" height="6.4" fill="#FF0000"/>
<line x1="637.5" y1="342.1" x2="637.5" y2="352.9" stroke="#FF0000" stroke-width="1"/>
<rect x="636" y="346.3" width="3" height="5.5" fill="#FF0000"/>
<line x1="640.5" y1="343.2" x2="640.5" y2="353.9" stroke="#FF0000" stroke-width="1"/>
<rect x="639" y="345.1" width="3" height="6.2" fill="#FF0000"/>
<line x1="643.5" y1="344.3" x2="643.5" y2="355.1" stroke="#FF0000" stroke-width="1"/>
<rect x="642.5" y="350.4" width="2" height="3.9" fill="#FFFFFF" stroke="#FF0000" stroke-width="1"/>
<line x1="646.5" y1="320.8" x2="646.5" y2="332.2" stroke="#0000FF" stroke-width="1"/>
<rect x="645.5" y="321.2" width="2" height="10.3" fill="#FFFFFF" stroke="#0000FF" stroke-width="1"/>
<line x1="648.5" y1="311.5" x2="648.5" y2="317.4" stroke="#0000FF" stroke-width="1"/>
<rect x="647.5" y="314.6" width="2" height="2.6" fill="#FFFFFF" stroke="#0000FF" stroke-width="1"/>
<line x1="651.5" y1="311.4" x2="651.5" y2="317.2" stroke="#0000FF" stroke-width="1"/>
<rect x="650.5" y="312.0" width="2" height="2.0" fill="#FFFFFF" stroke="#0000FF" stroke-width="1"/>
<line x1="654.5" y1="314.7" x2="654.5" y2="322.2" stroke="#0000FF" stroke-width="1"/>
<rect x="653" y="318.3" width="3" height="2.6" fill="#0000FF"/>
<line x1="657.5" y1="316.6" x2="657.5" y2="324.6" stroke="#0000FF" stroke-width="1"/>
<rect x="656.5" y="322.3" width="2" height="2.0" fill="#FFFFFF" stroke="#0000FF" stroke-width="1"/>
<line x1="660.5" y1="317.7" x2="660.5" y2="324.7" stroke="#0000FF" stroke-width="1"/>
<rect x="659" y="321.8" width="3" height="2.5" fill="#0000FF"/>
<line x1="663.5" y1="306.4" x2="663.5" y2="319.1" stroke="#0000FF" stroke-width="1"/>
<rect x="662.5" y="310.7" width="2" height="5.7" fill="#FFFFFF" stroke="#0000FF" stroke-width="1"/>
<line x1="666.5" y1="306.7" x2="666.5" y2="317.2" stroke="#0000FF" stroke-width="1"/>
<rect x="665.5" y="307.0" width="2" height="4.5" fill="#FFFFFF" stroke="#0000FF" stroke-width="1"/>
<line x1="669.5" y1="319.4" x2="669.5" y2="330.4" stroke="#0000FF" stroke-width="1"/>
<rect x="668" y="320.5" width="3" height="3.8" fill="#0000FF"/>
<line x1="671.5" y1="321.5" x2="671.5" y2="329.0" stroke="#0000FF" stroke-width="1"/>
<rect x="670.5" y="321.7" width="2" height="3.7" fill="#FFFFFF" stroke="#0000FF" stroke-width="1"/>
<line x1="674.5" y1="321.5" x2="674.5" y2="329.2" stroke="#0000FF" stroke-width="1"/>
<rect x="673.5" y="324.3" width="2" height="3.3" fill="#FFFFFF" stroke="#0000FF" stroke-width="1"/>
<line x1="677.5" y1="319.8" x2="677.5" y2="329.6" stroke="#0000FF" stroke-width="1"/>
<rect x="676.5" y="322.5" width="2" height="2.9" fill="#FFFFFF" stroke="#0000FF" stroke-width="1"/>
<line x1="680.5" y1="320.4" x2="680.5" y2="329.4" stroke="#0000FF" stroke-width="1"/>
<rect x="679.5" y="324.8" width="2" height="2.0" fill="#FFFFFF" stroke="#0000FF" stroke-width="1"/>
<line x1="683.5" y1="307.4" x2="683.5" y2="316.5" stroke="#0000FF" stroke-width="1"/>
<rect x="682.5" y="311.6" width="2" height="4.1" fill="#FFFFFF" stroke="#0000FF" stroke-width="1"/>
<line x1="686.5" y1="307.0" x2="686.5" y2="317.6" stroke="#0000FF" stroke-width="1"/>
<rect x="685.5" y="307.5" width="2" height="3.8" fill="#FFFFFF" stroke="#0000FF" stroke-width="1"/>
<line x1="689.5" y1="307.4" x2="689.5" y2="316.1" stroke="#0000FF" stroke-width="1"/>
<rect x="688.5" y="309.5" width="2" height="4.5" fill="#FFFFFF" stroke="#0000FF" stroke-width="1"/>
<line x1="691.5" y1="306.6" x2="691.5" y2="316.4" stroke="#0000FF" stroke-width="1"/>
<rect x="690.5" y="313.4" width="2" height="2.5" fill="#FFFFFF" stroke="#0000FF" stroke-width="1"/>
<line x1="694.5" y1="309.5" x2="694.5" y2="315.6" stroke="#0000FF" stroke-width="1"/>
<rect x="693.5" y="313.0" width="2" height="2.0" fill="#FFFFFF" stroke="#0000FF" stroke-width="1"/>
<line x1="697.5" y1="308.3" x2="697.5" y2="316.0" stroke="#0000FF" stroke-width="1"/>
<rect x="696.5" y="308.4" width="2" height="4.0" fill="#FFFFFF" stroke="#0000FF" stroke-width="1"/>
<line x1="700.5" y1="309.7" x2="700.5" y2="315.1" stroke="#0000FF" stroke-width="1"/>
<rect x="699.5" y="310.0" width="2" height="2.6" fill="#FFFFFF" stroke="#0000FF" stroke-width="1"/>
<line x1="703.5" y1="312.9" x2="703.5" y2="325.2" stroke="#0000FF" stroke-width="1"/>
<rect x="702" y="319.7" width="3" height="3.9" fill="#0000FF"/>
<line x1="706.5" y1="309.5" x2="706.5" y2="325.3" stroke="#0000FF" stroke-width="1"/>
<rect x="705.5" y="318.8" width="2" height="4.5" fill="#FFFFFF" stroke="#0000FF" stroke-width="1"/>
<line x1="709.5" y1="312.8" x2="709.5" y2="325.3" stroke="#0000FF" stroke-width="1"/>
<rect x="708" y="319.8" width="3" height="3.9" fill="#0000FF"/>
<line x1="711.5" y1="312.8" x2="711.5" y2="317.9" stroke="#0000FF" stroke-width="1"/>
<rect x="710.5" y="314.6" width="2" height="2.0" fill="#FFFFFF" stroke="#0000FF" stroke-width="1"/>
<line x1="714.5" y1="311.2" x2="714.5" y2="317.3" stroke="#0000FF" stroke-width="1"/>
<rect x="713.5" y="312.0" width="2" height="2.1" fill="#FFFFFF" stroke="#0000FF" stroke-width="1"/>
<line x1="717.5" y1="324.9" x2="717.5" y2="347.8" stroke="#FF0000" stroke-width="1"/>
<rect x="716" y="330.0" width="3" height="7.1" fill="#FF0000"/>
<line x1="720.5" y1="326.0" x2="720.5" y2="348.7" stroke="#FF0000" stroke-width="1"/>
<rect x="719" y="338.1" width="3" height="6.9" fill="#FF0000"/>
<line x1="723.5" y1="345.2" x2="723.5" y2="352.7" stroke="#FF0000" stroke-width="1"/>
<rect x="722" y="346.6" width="3" height="4.4" fill="#FF0000"/>
<line x1="726.5" y1="343.3" x2="726.5" y2="352.6" stroke="#FF0000" stroke-width="1"/>
<rect x="725" y="344.3" width="3" height="5.2" fill="#FF0000"/>
<line x1="729.5" y1="343.6" x2="729.5" y2="352.9" stroke="#FF0000" stroke-width="1"/>
<rect x="728" y="345.3" width="3" height="4.6" fill="#FF0000"/>
<line x1="731.5" y1="342.9" x2="731.5" y2="351.7" stroke="#FF0000" stroke-width="1"/>
<rect x="730" y="345.1" width="3" height="2.3" fill="#FF0000"/>
<line x1="734.5" y1="335.0" x2="734.5" y2="343.9" stroke="#FF0000" stroke-width="1"/>
<rect x="733.5" y="336.3" width="2" height="5.7" fill="#FFFFFF" stroke="#FF0000" stroke-width="1"/>
<line x1="737.5" y1="319.6" x2="737.5" y2="330.6" stroke="#FF0000" stroke-width="1"/>
<rect x="736.5" y="326.7" width="2" height="3.6" fill="#FFFFFF" stroke="#FF0000" stroke-width="1"/>
<line x1="740.5" y1="318.3" x2="740.5" y2="332.3" stroke="#FF0000" stroke-width="1"/>
<rect x="739.5" y="322.8" width="2" height="7.8" fill="#FFFFFF" stroke="#FF0000" stroke-width="1"/>
<line x1="743.5" y1="318.0" x2="743.5" y2="331.3" stroke="#FF0000" stroke-width="1"/>
<rect x="742.5" y="323.7" width="2" height="4.2" fill="#FFFFFF" stroke="#FF0000" stroke-width="1"/>
<line x1="746.5" y1="313.7" x2="746.5" y2="321.7" stroke="#FF0000" stroke-width="1"/>
<rect x="745" y="316.8" width="3" height="2.0" fill="#FF0000"/>
<line x1="749.5" y1="313.0" x2="749.5" y2="319.6" stroke="#FF0000" stroke-width="1"/>
<rect x="748.5" y="313.5" width="2" height="2.2" fill="#FFFFFF" stroke="#FF0000" stroke-width="1"/>
<line x1="751.5" y1="313.7" x2="751.5" y2="322.0" stroke="#FF0000" stroke-width="1"/>
<rect x="750.5" y="314.4" width="2" height="2.7" fill="#FFFFFF" stroke="#FF0000" stroke-width="1"/>
<line x1="754.5" y1="309.6" x2="754.5" y2="318.3" stroke="#FF0000" stroke-width="1"/>
<rect x="753.5" y="315.7" width="2" height="2.2" fill="#FFFFFF" stroke="#FF0000" stroke-width="1"/>
<line x1="757.5" y1="309.4" x2="757.5" y2="316.7" stroke="#FF0000" stroke-width="1"/>
<rect x="756.5" y="313.0" width="2" height="2.0" fill="#FFFFFF" stroke="#FF0000" stroke-width="1"/>
<line x1="760.5" y1="306.4" x2="760.5" y2="315.9" stroke="#FF0000" stroke-width="1"/>
<rect x="759.5" y="308.0" width="2" height="3.4" fill="#FFFFFF" stroke="#FF0000" stroke-width="1"/>
<line x1="763.5" y1="308.2" x2="763.5" y2="314.8" stroke="#FF0000" stroke-width="1"/>
<rect x="762.5" y="309.5" width="2" height="2.8" fill="#FFFFFF" stroke="#FF0000" stroke-width="1"/>
<line x1="766.5" y1="306.6" x2="766.5" y2="315.3" stroke="#FF0000" stroke-width="1"/>
<rect x="765.5" y="309.3" width="2" height="5.0" fill="#FFFFFF" stroke="#FF0000" stroke-width="1"/>
<line x1="769.5" y1="306.1" x2="769.5" y2="312.8" stroke="#FF0000" stroke-width="1"/>
<rect x="768.5" y="308.9" width="2" height="2.0" fill="#FFFFFF" stroke="#FF0000" stroke-width="1"/>
<line x1="771.5" y1="304.4" x2="771.5" y2="310.8" stroke="#FF0000" stroke-width="1"/>
<rect x="770" y="304.7" width="3" height="3.6" fill="#FF0000"/>
<line x1="774.5" y1="304.5" x2="774.5" y2="310.8" stroke="#FF0000" stroke-width="1"/>
<rect x="773.5" y="306.3" width="2" height="2.8" fill="#FFFFFF" stroke="#FF0000" stroke-width="1"/>
<line x1="777.5" y1="300.3" x2="777.5" y2="321.4" stroke="#0000FF" stroke-width="1"/>
<rect x="776" y="304.5" width="3" height="6.8" fill="#0000FF"/>
<line x1="780.5" y1="300.0" x2="780.5" y2="322.6" stroke="#0000FF" stroke-width="1"/>
<rect x="779.5" y="307.4" width="2" height="8.8" fill="#FFFFFF" stroke="#0000FF" stroke-width="1"/>
<line x1="783.5" y1="300.9" x2="783.5" y2="322.3" stroke="#0000FF" stroke-width="1"/>
<rect x="782.5" y="310.6" width="2" height="8.3" fill="#FFFFFF" stroke="#0000FF" stroke-width="1"/>
<line x1="786.5" y1="306.5" x2="786.5" y2="322.6" stroke="#0000FF" stroke-width="1"/>
<rect x="785" y="313.7" width="3" height="4.9" fill="#0000FF"/>
<line x1="789.5" y1="303.9" x2="789.5" y2="321.3" stroke="#0000FF" stroke-width="1"/>
<rect x="788" y="311.6" width="3" height="8.3" fill="#0000FF"/>
<line x1="791.5" y1="311.6" x2="791.5" y2="321.8" stroke="#0000FF" stroke-width="1"/>
<rect x="790.5" y="316.7" width="2" height="3.8" fill="#FFFFFF" stroke="#0000FF" stroke-width="1"/>
<line x1="794.5" y1="312.8" x2="794.5" y2="323.2" stroke="#0000FF" stroke-width="1"/>
<rect x="793" y="313.2" width="3" height="5.8" fill="#0000FF"/>
<line x1="797.5" y1="313.3" x2="797.5" y2="323.0" stroke="#0000FF" stroke-width="1"/>
<rect x="796" y="314.2" width="3" height="5.2" fill="#0000FF"/>
<line x1="800.5" y1="289.3" x2="800.5" y2="308.4" stroke="#0000FF" stroke-width="1"/>
<rect x="799.5" y="292.1" width="2" height="10.6" fill="#FFFFFF" stroke="#0000FF" stroke-width="1"/>
<line x1="803.5" y1="293.8" x2="803.5" y2="309.2" stroke="#0000FF" stroke-width="1"/>
<rect x="802.5" y="299.6" width="2" height="7.0" fill="#FFFFFF" stroke="#0000FF" stroke-width="1"/>
<line x1="806.5" y1="291.1" x2="806.5" y2="309.6" stroke="#0000FF" stroke-width="1"/>
<rect x="805.5" y="300.6" width="2" height="7.2" fill="#FFFFFF" stroke="#0000FF" stroke-width="1"/>
<line x1="809.5" y1="289.6" x2="809.5" y2="298.3" stroke="#0000FF" stroke-width="1"/>
<rect x="808.5" y="293.5" width="2" height="3.3" fill="#FFFFFF" stroke="#0000FF" stroke-width="1"/>
<line x1="812.5" y1="289.0" x2="812.5" y2="298.0" stroke="#0000FF" stroke-width="1"/>
<rect x="811" y="291.9" width="3" height="3.9" fill="#0000FF"/>
<line x1="814.5" y1="288.8" x2="814.5" y2="295.6" stroke="#0000FF" stroke-width="1"/>
<rect x="813.5" y="293.6" width="2" height="2.0" fill="#FFFFFF" stroke="#0000FF" stroke-width="1"/>
<line x1="817.5" y1="288.8" x2="817.5" y2="298.4" stroke="#0000FF" stroke-width="1"/>
<rect x="816" y="289.8" width="3" height="2.0" fill="#0000FF"/>
<line x1="820.5" y1="286.7" x2="820.5" y2="291.0" stroke="#0000FF" stroke-width="1"/>
<rect x="819.5" y="288.6" width="2" height="2.0" fill="#FFFFFF" stroke="#0000FF" stroke-width="1"/>
<line x1="823.5" y1="287.6" x2="823.5" y2="291.0" stroke="#0000FF" stroke-width="1"/>
<rect x="822.5" y="288.9" width="2" height="2.0" fill="#FFFFFF" stroke="#0000FF" stroke-width="1"/>
<line x1="826.5" y1="286.6" x2="826.5" y2="289.9" stroke="#0000FF" stroke-width="1"/>
<rect x="825" y="286.7" width="3" height="2.0" fill="#0000FF"/>
<line x1="829.5" y1="286.5" x2="829.5" y2="291.0" stroke="#0000FF" stroke-width="1"/>
<rect x="828" y="286.8" width="3" height="2.0" fill="#0000FF"/>
<line x1="832.5" y1="285.0" x2="832.5" y2="290.2" stroke="#0000FF" stroke-width="1"/>
<rect x="831.5" y="286.2" width="2" height="2.0" fill="#FFFFFF" stroke="#0000FF" stroke-width="1"/>
<line x1="834.5" y1="285.2" x2="834.5" y2="288.9" stroke="#0000FF" stroke-width="1"/>
<rect x="833.5" y="287.0" width="2" height="2.0" fill="#FFFFFF" stroke="#0000FF" stroke-width="1"/>
<line x1="837.5" y1="284.8" x2="837.5" y2="290.3" stroke="#0000FF" stroke-width="1"/>
<rect x="836.5" y="286.3" width="2" height="2.4" fill="#FFFFFF" stroke="#0000FF" stroke-width="1"/>
<line x1="840.5" y1="292.1" x2="840.5" y2="304.6" stroke="#0000FF" stroke-width="1"/>
<rect x="839" y="295.5" width="3" height="4.6" fill="#0000FF"/>
<line x1="843.5" y1="294.3" x2="843.5" y2="305.5" stroke="#0000FF" stroke-width="1"/>
<rect x="842" y="295.8" width="3" height="4.6" fill="#0000FF"/>
<line x1="846.5" y1="295.7" x2="846.5" y2="306.0" stroke="#0000FF" stroke-width="1"/>
<rect x="845.5" y="299.1" width="2" height="3.9" fill="#FFFFFF" stroke="#0000FF" stroke-width="1"/>
<line x1="849.5" y1="297.5" x2="849.5" y2="306.5" stroke="#0000FF" stroke-width="1"/>
<rect x="848.5" y="299.9" width="2" height="2.0" fill="#FFFFFF" stroke="#0000FF" stroke-width="1"/>
<line x1="852.5" y1="305.7" x2="852.5" y2="313.4" stroke="#0000FF" stroke-width="1"/>
<rect x="851" y="309.2" width="3" height="4.1" fill="#0000FF"/>
<line x1="854.5" y1="304.7" x2="854.5" y2="314.4" stroke="#0000FF" stroke-width="1"/>
<rect x="853" y="308.1" width="3" height="3.9" fill="#0000FF"/>
<line x1="857.5" y1="298.6" x2="857.5" y2="313.7" stroke="#0000FF" stroke-width="1"/>
<rect x="856" y="301.7" width="3" height="10.9" fill="#0000FF"/>
<line x1="860.5" y1="289.3" x2="860.5" y2="297.1" stroke="#0000FF" stroke-width="1"/>
<rect x="859.5" y="294.0" width="2" height="2.0" fill="#FFFFFF" stroke="#0000FF" stroke-width="1"/>
<line x1="863.5" y1="288.0" x2="863.5" y2="298.1" stroke="#0000FF" stroke-width="1"/>
<rect x="862.5" y="290.0" width="2" height="4.6" fill="#FFFFFF" stroke="#0000FF" stroke-width="1"/>
<line x1="866.5" y1="281.5" x2="866.5" y2="297.4" stroke="#0000FF" stroke-width="1"/>
<rect x="865.5" y="282.1" width="2" height="8.9" fill="#FFFFFF" stroke="#0000FF" stroke-width="1"/>
<line x1="869.5" y1="279.8" x2="869.5" y2="299.2" stroke="#0000FF" stroke-width="1"/>
<rect x="868.5" y="283.5" width="2" height="5.5" fill="#FFFFFF" stroke="#0000FF" stroke-width="1"/>
<line x1="872.5" y1="280.2" x2="872.5" y2="299.7" stroke="#0000FF" stroke-width="1"/>
<rect x="871.5" y="291.3" width="2" height="6.9" fill="#FFFFFF" stroke="#0000FF" stroke-width="1"/>
<line x1="874.5" y1="276.2" x2="874.5" y2="288.0" stroke="#0000FF" stroke-width="1"/>
<rect x="873.5" y="281.4" width="2" height="4.9" fill="#FFFFFF" stroke="#0000FF" stroke-width="1"/>
<line x1="877.5" y1="275.1" x2="877.5" y2="289.8" stroke="#0000FF" stroke-width="1"/>
<rect x="876.5" y="278.3" width="2" height="5.0" fill="#FFFFFF" stroke="#0000FF" stroke-width="1"/>
<line x1="880.5" y1="269.3" x2="880.5" y2="273.9" stroke="#0000FF" stroke-width="1"/>
<rect x="879.5" y="271.1" width="2" height="2.1" fill="#FFFFFF" stroke="#0000FF" stroke-width="1"/>
<line x1="883.5" y1="268.5" x2="883.5" y2="273.1" stroke="#0000FF" stroke-width="1"/>
<rect x="882.5" y="269.8" width="2" height="2.3" fill="#FFFFFF" stroke="#0000FF" stroke-width="1"/>
<line x1="886.5" y1="268.6" x2="886.5" y2="273.1" stroke="#0000FF" stroke-width="1"/>
<rect x="885.5" y="269.1" width="2" height="2.5" fill="#FFFFFF" stroke="#0000FF" stroke-width="1"/>
<line x1="889.5" y1="268.3" x2="889.5" y2="272.9" stroke="#0000FF" stroke-width="1"/>
<rect x="888.5" y="270.3" width="2" height="2.2" fill="#FFFFFF" stroke="#0000FF" stroke-width="1"/>
<line x1="892.5" y1="259.5" x2="892.5" y2="268.0" stroke="#0000FF" stroke-width="1"/>
<rect x="891.5" y="261.4" width="2" height="2.5" fill="#FFFFFF" stroke="#0000FF" stroke-width="1"/>
<line x1="894.5" y1="259.2" x2="894.5" y2="269.3" stroke="#0000FF" stroke-width="1"/>
<rect x="893.5" y="260.5" width="2" height="3.3" fill="#FFFFFF" stroke="#0000FF" stroke-width="1"/>
<line x1="897.5" y1="262.2" x2="897.5" y2="279.0" stroke="#0000FF" stroke-width="1"/>
<rect x="896" y="274.4" width="3" height="4.0" fill="#0000FF"/>
<line x1="900.5" y1="262.8" x2="900.5" y2="275.0" stroke="#0000FF" stroke-width="1"/>
<rect x="899.5" y="265.5" width="2" height="3.1" fill="#FFFFFF" stroke="#0000FF" stroke-width="1"/>
<line x1="903.5" y1="261.6" x2="903.5" y2="268.1" stroke="#0000FF" stroke-width="1"/>
<rect x="902.5" y="262.0" width="2" height="3.0" fill="#FFFFFF" stroke="#0000FF" stroke-width="1"/>
<line x1="906.5" y1="262.2" x2="906.5" y2="268.0" stroke="#0000FF" stroke-width="1"/>
<rect x="905.5" y="264.0" width="2" height="2.0" fill="#FFFFFF" stroke="#0000FF" stroke-width="1"/>
<line x1="909.5" y1="261.7" x2="909.5" y2="269.2" stroke="#0000FF" stroke-width="1"/>
<rect x="908.5" y="264.6" width="2" height="3.0" fill="#FFFFFF" stroke="#0000FF" stroke-width="1"/>
<line x1="912.5" y1="261.5" x2="912.5" y2="268.1" stroke="#0000FF" stroke-width="1"/>
<rect x="911.5" y="263.0" width="2" height="2.9" fill="#FFFFFF" stroke="#0000FF" stroke-width="1"/>
<line x1="914.5" y1="262.0" x2="914.5" y2="269.3" stroke="#0000FF" stroke-width="1"/>
<rect x="913.5" y="264.6" width="2" height="2.7" fill="#FFFFFF" stroke="#0000FF" stroke-width="1"/>
<line x1="917.5" y1="255.1" x2="917.5" y2="262.5" stroke="#0000FF" stroke-width="1"/>
<rect x="916.5" y="258.9" width="2" height="2.2" fill="#FFFFFF" stroke="#0000FF" stroke-width="1"/>
<line x1="920.5" y1="255.1" x2="920.5" y2="262.8" stroke="#0000FF" stroke-width="1"/>
<rect x="919.5" y="258.5" width="2" height="3.7" fill="#FFFFFF" stroke="#0000FF" stroke-width="1"/>
<line x1="923.5" y1="255.4" x2="923.5" y2="262.6" stroke="#0000FF" stroke-width="1"/>
<rect x="922.5" y="256.8" width="2" height="2.7" fill="#FFFFFF" stroke="#0000FF" stroke-width="1"/>
<line x1="926.5" y1="248.5" x2="926.5" y2="255.5" stroke="#0000FF" stroke-width="1"/>
<rect x="925.5" y="252.0" width="2" height="2.6" fill="#FFFFFF" stroke="#0000FF" stroke-width="1"/>
<line x1="929.5" y1="248.9" x2="929.5" y2="256.2" stroke="#0000FF" stroke-width="1"/>
<rect x="928.5" y="251.1" width="2" height="2.2" fill="#FFFFFF" stroke="#0000FF" stroke-width="1"/>
<line x1="932.5" y1="249.4" x2="932.5" y2="255.9" stroke="#0000FF" stroke-width="1"/>
<rect x="931.5" y="252.2" width="2" height="2.4" fill="#FFFFFF" stroke="#0000FF" stroke-width="1"/>
<line x1="934.5" y1="248.4" x2="934.5" y2="256.3" stroke="#0000FF" stroke-width="1"/>
<rect x="933.5" y="251.7" width="2" height="3.6" fill="#FFFFFF" stroke="#0000FF" stroke-width="1"/>
<line x1="937.5" y1="245.0" x2="937.5" y2="256.5" stroke="#0000FF" stroke-width="1"/>
<rect x="936" y="245.2" width="3" height="6.8" fill="#0000FF"/>
<line x1="940.5" y1="246.9" x2="940.5" y2="257.2" stroke="#0000FF" stroke-width="1"/>
<rect x="939" y="249.1" width="3" height="5.9" fill="#0000FF"/>
<line x1="943.5" y1="250.6" x2="943.5" y2="261.7" stroke="#0000FF" stroke-width="1"/>
<rect x="942" y="251.4" width="3" height="9.0" fill="#0000FF"/>
<line x1="946.5" y1="267.9" x2="946.5" y2="277.9" stroke="#0000FF" stroke-width="1"/>
<rect x="945" y="270.1" width="3" height="3.5" fill="#0000FF"/>
<line x1="949.5" y1="264.3" x2="949.5" y2="278.2" stroke="#0000FF" stroke-width="1"/>
<rect x="948" y="265.4" width="3" height="8.3" fill="#0000FF"/>
<line x1="952.5" y1="269.4" x2="952.5" y2="286.9" stroke="#FF0000" stroke-width="1"/>
<rect x="951" y="274.9" width="3" height="8.6" fill="#FF0000"/>
<line x1="955.5" y1="268.2" x2="955.5" y2="283.7" stroke="#FF0000" stroke-width="1"/>
<rect x="954.5" y="269.1" width="2" height="3.5" fill="#FFFFFF" stroke="#FF0000" stroke-width="1"/>
<line x1="957.5" y1="267.9" x2="957.5" y2="286.2" stroke="#FF0000" stroke-width="1"/>
<rect x="956.5" y="269.1" width="2" height="7.9" fill="#FFFFFF" stroke="#FF0000" stroke-width="1"/>
<line x1="960.5" y1="266.9" x2="960.5" y2="275.7" stroke="#FF0000" stroke-width="1"/>
<rect x="959.5" y="268.1" width="2" height="3.6" fill="#FFFFFF" stroke="#FF0000" stroke-width="1"/>
<line x1="963.5" y1="266.4" x2="963.5" y2="275.4" stroke="#FF0000" stroke-width="1"/>
<rect x="962.5" y="267.2" width="2" height="2.6" fill="#FFFFFF" stroke="#FF0000" stroke-width="1"/>
<line x1="966.5" y1="270.3" x2="966.5" y2="283.7" stroke="#FF0000" stroke-width="1"/>
<rect x="965" y="273.7" width="3" height="6.1" fill="#FF0000"/>
<line x1="969.5" y1="269.5" x2="969.5" y2="283.1" stroke="#FF0000" stroke-width="1"/>
<rect x="968.5" y="275.5" width="2" height="6.3" fill="#FFFFFF" stroke="#FF0000" stroke-width="1"/>
<line x1="972.5" y1="270.2" x2="972.5" y2="282.0" stroke="#FF0000" stroke-width="1"/>
<rect x="971.5" y="271.1" width="2" height="4.9" fill="#FFFFFF" stroke="#FF0000" stroke-width="1"/>
<line x1="975.5" y1="266.4" x2="975.5" y2="273.9" stroke="#FF0000" stroke-width="1"/>
<rect x="974.5" y="268.3" width="2" height="2.3" fill="#FFFFFF" stroke="#FF0000" stroke-width="1"/>
<line x1="977.5" y1="265.6" x2="977.5" y2="272.7" stroke="#FF0000" stroke-width="1"/>
<rect x="976.5" y="265.6" width="2" height="2.0" fill="#FFFFFF" stroke="#FF0000" stroke-width="1"/>
<line x1="980.5" y1="264.8" x2="980.5" y2="273.5" stroke="#FF0000" stroke-width="1"/>
<rect x="979.5" y="266.6" width="2" height="2.6" fill="#FFFFFF" stroke="#FF0000" stroke-width="1"/>
<line x1="983.5" y1="265.3" x2="983.5" y2="273.2" stroke="#FF0000" stroke-width="1"/>
<rect x="982.5" y="268.1" width="2" height="3.6" fill="#FFFFFF" stroke="#FF0000" stroke-width="1"/>
<line x1="986.5" y1="270.4" x2="986.5" y2="274.1" stroke="#FF0000" stroke-width="1"/>
<rect x="985" y="270.5" width="3" height="2.0" fill="#FF0000"/>
<line x1="989.5" y1="269.7" x2="989.5" y2="274.2" stroke="#FF0000" stroke-width="1"/>
<rect x="988" y="270.0" width="3" height="2.3" fill="#FF0000"/>
<line x1="992.5" y1="276.5" x2="992.5" y2="290.2" stroke="#FF0000" stroke-width="1"/>
<rect x="991" y="277.0" width="3" height="12.8" fill="#FF0000"/>
<line x1="994.5" y1="286.0" x2="994.5" y2="359.4" stroke="#FF0000" stroke-width="1"/>
<rect x="993" y="297.9" width="3" height="61.5" fill="#FF0000"/>
<line x1="997.5" y1="339.7" x2="997.5" y2="356.5" stroke="#FF0000" stroke-width="1"/>
<rect x="996.5" y="339.7" width="2" height="16.8" fill="#FFFFFF" stroke="#FF0000" stroke-width="1"/>
<line x1="1000.5" y1="345.7" x2="1000.5" y2="370.8" stroke="#FF0000" stroke-width="1"/>
<rect x="999" y="345.7" width="3" height="25.1" fill="#FF0000"/>
<line x1="1003.5" y1="364.8" x2="1003.5" y2="394.7" stroke="#FF0000" stroke-width="1"/>
<rect x="1002" y="364.8" width="3" height="29.9" fill="#FF0000"/>
<line x1="1005.5" y1="398.0" x2="1005.5" y2="435.6" stroke="#FF0000" stroke-width="1"/>
<rect x="1004" y="398.0" width="3" height="37.6" fill="#FF0000"/>
<line x1="1008.5" y1="395.0" x2="1008.5" y2="435.6" stroke="#FF0000" stroke-width="1"/>
<rect x="1007" y="399.0" width="3" height="36.0" fill="#FF0000"/>
<line x1="1011.5" y1="380.0" x2="1011.5" y2="430.2" stroke="#FF0000" stroke-width="1"/>
<rect x="1010" y="388.3" width="3" height="41.9" fill="#FF0000"/>
<line x1="1014.5" y1="376.0" x2="1014.5" y2="428.0" stroke="#FF0000" stroke-width="1"/>
<rect x="1013" y="386.0" width="3" height="40.0" fill="#FF0000"/>
<line x1="1017.5" y1="435.6" x2="1017.5" y2="465.7" stroke="#FF0000" stroke-width="1"/>
<rect x="1016" y="435.6" width="3" height="30.1" fill="#FF0000"/>
<line x1="1020.5" y1="472.2" x2="1020.5" y2="543.5" stroke="#FF0000" stroke-width="1"/>
<rect x="1019" y="472.2" width="3" height="41.5" fill="#FF0000"/>
</g>
<line x1="427" y1="443" x2="1051.5" y2="261.5" stroke="#0000FF" stroke-width="2.2"/>
<text x="247" y="186" font-size="27" font-family="Liberation Sans, DejaVu Sans, sans-serif" font-style="italic" fill="#1E1EF0" stroke="#FFFFFF" stroke-width="0.45" textLength="355" lengthAdjust="spacingAndGlyphs">GENERAL INDEX DAILY</text>
<text x="255" y="222.5" font-size="27" font-family="Liberation Sans, DejaVu Sans, sans-serif" font-style="italic" fill="#1E1EF0" stroke="#FFFFFF" stroke-width="0.45" textLength="270" lengthAdjust="spacingAndGlyphs">SHORT STOP 776</text>
<text x="900" y="206" font-size="28" font-family="Liberation Sans, DejaVu Sans, sans-serif" font-style="italic" fill="#1E1EF0" stroke="#FFFFFF" stroke-width="0.45" textLength="60" lengthAdjust="spacingAndGlyphs">949</text>
<text x="1025" y="292" font-size="28" font-family="Liberation Sans, DejaVu Sans, sans-serif" font-style="italic" fill="#1E1EF0" stroke="#FFFFFF" stroke-width="0.45" textLength="58" lengthAdjust="spacingAndGlyphs">900</text>
<text x="1075" y="402" font-size="25" font-family="Liberation Sans, DejaVu Sans, sans-serif" font-style="italic" fill="#1E1EF0" stroke="#FFFFFF" stroke-width="0.45" textLength="56" lengthAdjust="spacingAndGlyphs">730</text>
<text x="1076" y="467" font-size="25" font-family="Liberation Sans, DejaVu Sans, sans-serif" font-style="italic" fill="#1E1EF0" stroke="#FFFFFF" stroke-width="0.45" textLength="49" lengthAdjust="spacingAndGlyphs">680</text>
<text x="671" y="462" font-size="20" font-family="Liberation Sans, DejaVu Sans, sans-serif" font-style="italic" fill="#1E1EF0" stroke="#FFFFFF" stroke-width="0.45" textLength="191" lengthAdjust="spacingAndGlyphs">www.fastfinance.gr</text>
<text x="170" y="583" font-size="24" font-family="Liberation Sans, DejaVu Sans, sans-serif" font-style="italic" fill="#1E1EF0" stroke="#FFFFFF" stroke-width="0.45" textLength="50" lengthAdjust="spacingAndGlyphs">592</text>
<text x="938" y="577" font-size="24" font-family="Liberation Sans, DejaVu Sans, sans-serif" font-style="italic" fill="#1E1EF0" stroke="#FFFFFF" stroke-width="0.45" textLength="51" lengthAdjust="spacingAndGlyphs">592</text>
</svg></body></html>
